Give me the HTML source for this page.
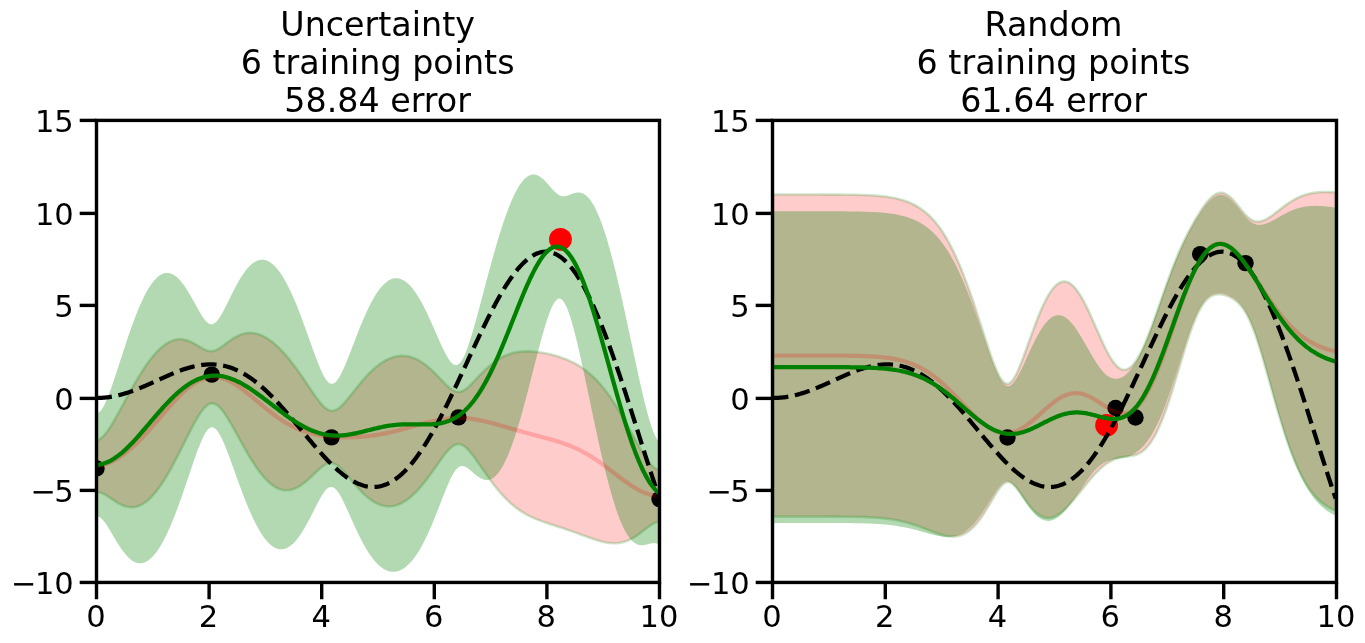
<!DOCTYPE html>
<html><head><meta charset="utf-8"><title>Active learning: Uncertainty vs Random</title>
<style>
html,body{margin:0;padding:0;background:#fff;}
svg{display:block;}
svg text{font-family:"DejaVu Sans","Liberation Sans",sans-serif;fill:#000;}
</style></head><body>
<svg width="1365" height="643" viewBox="0 0 1365 643">
<rect width="1365" height="643" fill="#fff"/>
<clipPath id="clip0"><rect x="96.5" y="120.4" width="563.0" height="462.05000000000007"/></clipPath>
<g clip-path="url(#clip0)">
<path d="M96.50,440.29 L97.91,439.96 L99.31,439.34 L100.72,438.46 L102.13,437.32 L103.54,435.94 L104.95,434.36 L106.35,432.60 L107.76,430.68 L109.17,428.62 L110.58,426.45 L111.98,424.18 L113.39,421.84 L114.80,419.42 L116.20,416.95 L117.61,414.44 L119.02,411.89 L120.43,409.33 L121.84,406.74 L123.24,404.15 L124.65,401.56 L126.06,398.98 L127.47,396.40 L128.87,393.84 L130.28,391.30 L131.69,388.78 L133.09,386.30 L134.50,383.84 L135.91,381.43 L137.32,379.05 L138.72,376.72 L140.13,374.43 L141.54,372.19 L142.95,370.01 L144.36,367.88 L145.76,365.81 L147.17,363.80 L148.58,361.86 L149.99,359.98 L151.39,358.17 L152.80,356.43 L154.21,354.76 L155.62,353.17 L157.02,351.65 L158.43,350.22 L159.84,348.86 L161.25,347.59 L162.65,346.41 L164.06,345.31 L165.47,344.29 L166.88,343.37 L168.28,342.54 L169.69,341.81 L171.10,341.16 L172.50,340.61 L173.91,340.16 L175.32,339.80 L176.73,339.53 L178.14,339.37 L179.54,339.29 L180.95,339.31 L182.36,339.42 L183.76,339.63 L185.17,339.92 L186.58,340.29 L187.99,340.75 L189.40,341.29 L190.80,341.89 L192.21,342.56 L193.62,343.29 L195.03,344.06 L196.43,344.87 L197.84,345.70 L199.25,346.54 L200.66,347.38 L202.06,348.18 L203.47,348.93 L204.88,349.62 L206.29,350.20 L207.69,350.66 L209.10,350.98 L210.51,351.13 L211.92,351.12 L213.32,350.92 L214.73,350.56 L216.14,350.03 L217.55,349.36 L218.95,348.57 L220.36,347.68 L221.77,346.72 L223.18,345.70 L224.58,344.66 L225.99,343.60 L227.40,342.54 L228.81,341.50 L230.21,340.49 L231.62,339.52 L233.03,338.59 L234.44,337.72 L235.84,336.92 L237.25,336.17 L238.66,335.50 L240.06,334.90 L241.47,334.37 L242.88,333.92 L244.29,333.55 L245.70,333.26 L247.10,333.04 L248.51,332.91 L249.92,332.86 L251.32,332.88 L252.73,332.99 L254.14,333.17 L255.55,333.43 L256.95,333.77 L258.36,334.18 L259.77,334.66 L261.18,335.22 L262.59,335.84 L263.99,336.54 L265.40,337.30 L266.81,338.13 L268.22,339.03 L269.62,339.99 L271.03,341.01 L272.44,342.09 L273.85,343.24 L275.25,344.44 L276.66,345.69 L278.07,347.01 L279.48,348.38 L280.88,349.80 L282.29,351.27 L283.70,352.80 L285.11,354.37 L286.51,355.99 L287.92,357.66 L289.33,359.38 L290.74,361.14 L292.14,362.94 L293.55,364.78 L294.96,366.66 L296.37,368.57 L297.77,370.52 L299.18,372.50 L300.59,374.51 L302.00,376.55 L303.40,378.60 L304.81,380.68 L306.22,382.76 L307.62,384.86 L309.03,386.95 L310.44,389.04 L311.85,391.11 L313.25,393.17 L314.66,395.19 L316.07,397.16 L317.48,399.08 L318.88,400.92 L320.29,402.67 L321.70,404.32 L323.11,405.82 L324.51,407.17 L325.92,408.34 L327.33,409.31 L328.74,410.05 L330.15,410.54 L331.55,410.78 L332.96,410.76 L334.37,410.48 L335.77,409.96 L337.18,409.22 L338.59,408.27 L340.00,407.15 L341.41,405.88 L342.81,404.48 L344.22,402.98 L345.63,401.39 L347.03,399.74 L348.44,398.04 L349.85,396.30 L351.26,394.54 L352.67,392.76 L354.07,390.98 L355.48,389.21 L356.89,387.45 L358.30,385.71 L359.70,383.99 L361.11,382.30 L362.52,380.64 L363.93,379.02 L365.33,377.44 L366.74,375.91 L368.15,374.42 L369.56,372.98 L370.96,371.59 L372.37,370.25 L373.78,368.97 L375.19,367.74 L376.59,366.57 L378.00,365.45 L379.41,364.39 L380.82,363.40 L382.22,362.46 L383.63,361.58 L385.04,360.76 L386.45,360.01 L387.85,359.31 L389.26,358.68 L390.67,358.11 L392.07,357.60 L393.48,357.16 L394.89,356.78 L396.30,356.47 L397.71,356.21 L399.11,356.03 L400.52,355.91 L401.93,355.85 L403.33,355.86 L404.74,355.94 L406.15,356.08 L407.56,356.29 L408.97,356.57 L410.37,356.91 L411.78,357.32 L413.19,357.80 L414.60,358.34 L416.00,358.96 L417.41,359.64 L418.82,360.38 L420.23,361.20 L421.63,362.07 L423.04,363.01 L424.45,364.01 L425.86,365.08 L427.26,366.20 L428.67,367.38 L430.08,368.61 L431.49,369.89 L432.89,371.21 L434.30,372.58 L435.71,373.98 L437.12,375.41 L438.52,376.87 L439.93,378.34 L441.34,379.81 L442.75,381.27 L444.15,382.72 L445.56,384.13 L446.97,385.48 L448.38,386.77 L449.78,387.96 L451.19,389.03 L452.60,389.97 L454.00,390.73 L455.41,391.31 L456.82,391.68 L458.23,391.83 L459.63,391.75 L461.04,391.45 L462.45,390.93 L463.86,390.22 L465.27,389.34 L466.67,388.30 L468.08,387.14 L469.49,385.87 L470.90,384.52 L472.30,383.12 L473.71,381.67 L475.12,380.19 L476.52,378.70 L477.93,377.21 L479.34,375.72 L480.75,374.26 L482.16,372.81 L483.56,371.40 L484.97,370.02 L486.38,368.68 L487.78,367.38 L489.19,366.13 L490.60,364.93 L492.01,363.78 L493.42,362.69 L494.82,361.64 L496.23,360.65 L497.64,359.72 L499.05,358.84 L500.45,358.01 L501.86,357.24 L503.27,356.52 L504.68,355.86 L506.08,355.25 L507.49,354.69 L508.90,354.17 L510.31,353.71 L511.71,353.29 L513.12,352.92 L514.53,352.60 L515.94,352.31 L517.34,352.07 L518.75,351.86 L520.16,351.69 L521.57,351.56 L522.97,351.46 L524.38,351.39 L525.79,351.35 L527.19,351.34 L528.60,351.36 L530.01,351.40 L531.42,351.47 L532.83,351.56 L534.23,351.68 L535.64,351.82 L537.05,351.97 L538.46,352.15 L539.86,352.35 L541.27,352.56 L542.68,352.79 L544.09,353.04 L545.49,353.31 L546.90,353.59 L548.31,353.89 L549.72,354.21 L551.12,354.54 L552.53,354.90 L553.94,355.27 L555.35,355.66 L556.75,356.06 L558.16,356.49 L559.57,356.94 L560.98,357.41 L562.38,357.90 L563.79,358.42 L565.20,358.95 L566.61,359.52 L568.01,360.11 L569.42,360.73 L570.83,361.38 L572.24,362.06 L573.64,362.77 L575.05,363.52 L576.46,364.30 L577.87,365.12 L579.27,365.97 L580.68,366.87 L582.09,367.81 L583.50,368.79 L584.90,369.81 L586.31,370.88 L587.72,372.00 L589.12,373.16 L590.53,374.38 L591.94,375.64 L593.35,376.96 L594.75,378.33 L596.16,379.76 L597.57,381.24 L598.98,382.78 L600.38,384.37 L601.79,386.02 L603.20,387.73 L604.61,389.49 L606.02,391.31 L607.42,393.19 L608.83,395.13 L610.24,397.12 L611.64,399.16 L613.05,401.26 L614.46,403.42 L615.87,405.62 L617.27,407.87 L618.68,410.17 L620.09,412.51 L621.50,414.89 L622.90,417.32 L624.31,419.77 L625.72,422.26 L627.13,424.77 L628.54,427.31 L629.94,429.86 L631.35,432.42 L632.76,434.99 L634.17,437.56 L635.57,440.12 L636.98,442.66 L638.39,445.17 L639.79,447.65 L641.20,450.09 L642.61,452.46 L644.02,454.76 L645.42,456.97 L646.83,459.08 L648.24,461.06 L649.65,462.90 L651.06,464.57 L652.46,466.04 L653.87,467.29 L655.28,468.30 L656.69,469.04 L658.09,469.49 L659.50,469.64 L659.50,521.87 L658.09,521.97 L656.69,522.25 L655.28,522.71 L653.87,523.33 L652.46,524.09 L651.06,524.96 L649.65,525.92 L648.24,526.94 L646.83,528.01 L645.42,529.11 L644.02,530.22 L642.61,531.32 L641.20,532.41 L639.79,533.47 L638.39,534.49 L636.98,535.47 L635.57,536.41 L634.17,537.29 L632.76,538.11 L631.35,538.88 L629.94,539.59 L628.54,540.23 L627.13,540.81 L625.72,541.32 L624.31,541.78 L622.90,542.17 L621.50,542.49 L620.09,542.76 L618.68,542.96 L617.27,543.11 L615.87,543.20 L614.46,543.24 L613.05,543.22 L611.64,543.16 L610.24,543.04 L608.83,542.89 L607.42,542.69 L606.02,542.45 L604.61,542.18 L603.20,541.87 L601.79,541.54 L600.38,541.17 L598.98,540.78 L597.57,540.36 L596.16,539.93 L594.75,539.48 L593.35,539.01 L591.94,538.53 L590.53,538.04 L589.12,537.53 L587.72,537.03 L586.31,536.51 L584.90,535.99 L583.50,535.48 L582.09,534.96 L580.68,534.44 L579.27,533.92 L577.87,533.40 L576.46,532.89 L575.05,532.39 L573.64,531.88 L572.24,531.39 L570.83,530.90 L569.42,530.41 L568.01,529.93 L566.61,529.46 L565.20,528.99 L563.79,528.52 L562.38,528.06 L560.98,527.61 L559.57,527.16 L558.16,526.71 L556.75,526.26 L555.35,525.81 L553.94,525.36 L552.53,524.91 L551.12,524.46 L549.72,524.01 L548.31,523.55 L546.90,523.08 L545.49,522.60 L544.09,522.11 L542.68,521.62 L541.27,521.11 L539.86,520.58 L538.46,520.04 L537.05,519.47 L535.64,518.89 L534.23,518.29 L532.83,517.66 L531.42,517.01 L530.01,516.33 L528.60,515.62 L527.19,514.88 L525.79,514.10 L524.38,513.29 L522.97,512.45 L521.57,511.56 L520.16,510.64 L518.75,509.67 L517.34,508.66 L515.94,507.61 L514.53,506.51 L513.12,505.37 L511.71,504.17 L510.31,502.93 L508.90,501.64 L507.49,500.30 L506.08,498.92 L504.68,497.48 L503.27,495.99 L501.86,494.45 L500.45,492.86 L499.05,491.22 L497.64,489.54 L496.23,487.81 L494.82,486.03 L493.42,484.22 L492.01,482.36 L490.60,480.47 L489.19,478.54 L487.78,476.58 L486.38,474.60 L484.97,472.59 L483.56,470.57 L482.16,468.53 L480.75,466.50 L479.34,464.47 L477.93,462.45 L476.52,460.45 L475.12,458.49 L473.71,456.57 L472.30,454.72 L470.90,452.95 L469.49,451.27 L468.08,449.71 L466.67,448.29 L465.27,447.04 L463.86,445.97 L462.45,445.12 L461.04,444.51 L459.63,444.16 L458.23,444.06 L456.82,444.24 L455.41,444.68 L454.00,445.36 L452.60,446.28 L451.19,447.40 L449.78,448.70 L448.38,450.16 L446.97,451.75 L445.56,453.45 L444.15,455.24 L442.75,457.10 L441.34,459.01 L439.93,460.97 L438.52,462.95 L437.12,464.94 L435.71,466.94 L434.30,468.94 L432.89,470.93 L431.49,472.91 L430.08,474.85 L428.67,476.77 L427.26,478.66 L425.86,480.50 L424.45,482.31 L423.04,484.06 L421.63,485.77 L420.23,487.42 L418.82,489.01 L417.41,490.54 L416.00,492.02 L414.60,493.43 L413.19,494.77 L411.78,496.05 L410.37,497.26 L408.97,498.39 L407.56,499.46 L406.15,500.45 L404.74,501.37 L403.33,502.21 L401.93,502.98 L400.52,503.67 L399.11,504.28 L397.71,504.82 L396.30,505.27 L394.89,505.65 L393.48,505.95 L392.07,506.17 L390.67,506.31 L389.26,506.37 L387.85,506.34 L386.45,506.24 L385.04,506.06 L383.63,505.80 L382.22,505.46 L380.82,505.04 L379.41,504.53 L378.00,503.95 L376.59,503.30 L375.19,502.56 L373.78,501.75 L372.37,500.86 L370.96,499.90 L369.56,498.87 L368.15,497.77 L366.74,496.60 L365.33,495.36 L363.93,494.06 L362.52,492.70 L361.11,491.28 L359.70,489.81 L358.30,488.29 L356.89,486.72 L355.48,485.12 L354.07,483.49 L352.67,481.83 L351.26,480.15 L349.85,478.47 L348.44,476.79 L347.03,475.12 L345.63,473.49 L344.22,471.89 L342.81,470.36 L341.41,468.92 L340.00,467.57 L338.59,466.36 L337.18,465.29 L335.77,464.41 L334.37,463.72 L332.96,463.25 L331.55,463.01 L330.15,463.00 L328.74,463.21 L327.33,463.64 L325.92,464.27 L324.51,465.07 L323.11,466.02 L321.70,467.10 L320.29,468.27 L318.88,469.52 L317.48,470.82 L316.07,472.16 L314.66,473.51 L313.25,474.87 L311.85,476.22 L310.44,477.55 L309.03,478.85 L307.62,480.11 L306.22,481.32 L304.81,482.47 L303.40,483.57 L302.00,484.59 L300.59,485.55 L299.18,486.43 L297.77,487.22 L296.37,487.93 L294.96,488.56 L293.55,489.09 L292.14,489.53 L290.74,489.87 L289.33,490.12 L287.92,490.27 L286.51,490.32 L285.11,490.26 L283.70,490.11 L282.29,489.85 L280.88,489.49 L279.48,489.02 L278.07,488.46 L276.66,487.78 L275.25,487.01 L273.85,486.14 L272.44,485.16 L271.03,484.09 L269.62,482.92 L268.22,481.65 L266.81,480.28 L265.40,478.82 L263.99,477.28 L262.59,475.64 L261.18,473.92 L259.77,472.11 L258.36,470.22 L256.95,468.26 L255.55,466.22 L254.14,464.12 L252.73,461.94 L251.32,459.71 L249.92,457.41 L248.51,455.07 L247.10,452.67 L245.70,450.24 L244.29,447.76 L242.88,445.26 L241.47,442.73 L240.06,440.18 L238.66,437.63 L237.25,435.07 L235.84,432.51 L234.44,429.97 L233.03,427.46 L231.62,424.98 L230.21,422.55 L228.81,420.18 L227.40,417.88 L225.99,415.68 L224.58,413.58 L223.18,411.61 L221.77,409.80 L220.36,408.16 L218.95,406.71 L217.55,405.49 L216.14,404.53 L214.73,403.84 L213.32,403.44 L211.92,403.35 L210.51,403.57 L209.10,404.09 L207.69,404.92 L206.29,406.02 L204.88,407.38 L203.47,408.97 L202.06,410.77 L200.66,412.75 L199.25,414.88 L197.84,417.15 L196.43,419.54 L195.03,422.03 L193.62,424.60 L192.21,427.23 L190.80,429.93 L189.40,432.66 L187.99,435.43 L186.58,438.22 L185.17,441.03 L183.76,443.84 L182.36,446.65 L180.95,449.46 L179.54,452.24 L178.14,455.01 L176.73,457.75 L175.32,460.45 L173.91,463.11 L172.50,465.73 L171.10,468.31 L169.69,470.82 L168.28,473.28 L166.88,475.68 L165.47,478.01 L164.06,480.27 L162.65,482.46 L161.25,484.57 L159.84,486.61 L158.43,488.55 L157.02,490.42 L155.62,492.19 L154.21,493.88 L152.80,495.47 L151.39,496.97 L149.99,498.36 L148.58,499.67 L147.17,500.87 L145.76,501.96 L144.36,502.96 L142.95,503.85 L141.54,504.64 L140.13,505.32 L138.72,505.90 L137.32,506.38 L135.91,506.74 L134.50,507.01 L133.09,507.17 L131.69,507.23 L130.28,507.19 L128.87,507.05 L127.47,506.82 L126.06,506.49 L124.65,506.07 L123.24,505.56 L121.84,504.98 L120.43,504.32 L119.02,503.59 L117.61,502.79 L116.20,501.94 L114.80,501.05 L113.39,500.12 L111.98,499.16 L110.58,498.20 L109.17,497.25 L107.76,496.32 L106.35,495.43 L104.95,494.62 L103.54,493.90 L102.13,493.29 L100.72,492.83 L99.31,492.54 L97.91,492.43 L96.50,492.52Z" fill="#ff0000" fill-opacity="0.2" stroke="#008000" stroke-opacity="0.2" stroke-width="2.6" stroke-linejoin="round"/>
<path d="M96.50,413.36 L97.91,412.99 L99.31,412.08 L100.72,410.64 L102.13,408.73 L103.54,406.39 L104.95,403.65 L106.35,400.58 L107.76,397.23 L109.17,393.63 L110.58,389.83 L111.98,385.86 L113.39,381.77 L114.80,377.57 L116.20,373.30 L117.61,368.97 L119.02,364.61 L120.43,360.25 L121.84,355.88 L123.24,351.54 L124.65,347.23 L126.06,342.96 L127.47,338.75 L128.87,334.62 L130.28,330.56 L131.69,326.59 L133.09,322.71 L134.50,318.94 L135.91,315.28 L137.32,311.74 L138.72,308.32 L140.13,305.04 L141.54,301.89 L142.95,298.88 L144.36,296.03 L145.76,293.32 L147.17,290.76 L148.58,288.37 L149.99,286.14 L151.39,284.07 L152.80,282.17 L154.21,280.45 L155.62,278.89 L157.02,277.52 L158.43,276.32 L159.84,275.30 L161.25,274.46 L162.65,273.80 L164.06,273.32 L165.47,273.03 L166.88,272.91 L168.28,272.98 L169.69,273.22 L171.10,273.65 L172.50,274.25 L173.91,275.02 L175.32,275.97 L176.73,277.09 L178.14,278.36 L179.54,279.80 L180.95,281.39 L182.36,283.13 L183.76,285.00 L185.17,287.01 L186.58,289.14 L187.99,291.38 L189.40,293.72 L190.80,296.14 L192.21,298.63 L193.62,301.16 L195.03,303.73 L196.43,306.30 L197.84,308.84 L199.25,311.33 L200.66,313.72 L202.06,315.98 L203.47,318.06 L204.88,319.92 L206.29,321.51 L207.69,322.77 L209.10,323.66 L210.51,324.16 L211.92,324.23 L213.32,323.87 L214.73,323.08 L216.14,321.90 L217.55,320.35 L218.95,318.49 L220.36,316.35 L221.77,313.99 L223.18,311.45 L224.58,308.77 L225.99,306.00 L227.40,303.17 L228.81,300.31 L230.21,297.44 L231.62,294.60 L233.03,291.79 L234.44,289.04 L235.84,286.36 L237.25,283.76 L238.66,281.26 L240.06,278.87 L241.47,276.59 L242.88,274.44 L244.29,272.41 L245.70,270.53 L247.10,268.78 L248.51,267.18 L249.92,265.72 L251.32,264.42 L252.73,263.27 L254.14,262.28 L255.55,261.45 L256.95,260.78 L258.36,260.26 L259.77,259.91 L261.18,259.72 L262.59,259.69 L263.99,259.83 L265.40,260.13 L266.81,260.58 L268.22,261.20 L269.62,261.98 L271.03,262.91 L272.44,264.01 L273.85,265.25 L275.25,266.66 L276.66,268.21 L278.07,269.92 L279.48,271.78 L280.88,273.78 L282.29,275.92 L283.70,278.21 L285.11,280.64 L286.51,283.20 L287.92,285.90 L289.33,288.72 L290.74,291.67 L292.14,294.73 L293.55,297.92 L294.96,301.21 L296.37,304.61 L297.77,308.10 L299.18,311.69 L300.59,315.36 L302.00,319.11 L303.40,322.92 L304.81,326.79 L306.22,330.70 L307.62,334.65 L309.03,338.61 L310.44,342.58 L311.85,346.54 L313.25,350.46 L314.66,354.33 L316.07,358.11 L317.48,361.79 L318.88,365.33 L320.29,368.69 L321.70,371.83 L323.11,374.71 L324.51,377.28 L325.92,379.50 L327.33,381.30 L328.74,382.65 L330.15,383.52 L331.55,383.87 L332.96,383.71 L334.37,383.04 L335.77,381.89 L337.18,380.29 L338.59,378.29 L340.00,375.93 L341.41,373.27 L342.81,370.36 L344.22,367.23 L345.63,363.94 L347.03,360.52 L348.44,356.99 L349.85,353.39 L351.26,349.75 L352.67,346.09 L354.07,342.42 L355.48,338.76 L356.89,335.14 L358.30,331.56 L359.70,328.04 L361.11,324.58 L362.52,321.21 L363.93,317.92 L365.33,314.72 L366.74,311.63 L368.15,308.65 L369.56,305.78 L370.96,303.04 L372.37,300.42 L373.78,297.94 L375.19,295.59 L376.59,293.37 L378.00,291.30 L379.41,289.37 L380.82,287.59 L382.22,285.96 L383.63,284.48 L385.04,283.15 L386.45,281.98 L387.85,280.96 L389.26,280.10 L390.67,279.39 L392.07,278.85 L393.48,278.46 L394.89,278.22 L396.30,278.15 L397.71,278.24 L399.11,278.48 L400.52,278.88 L401.93,279.43 L403.33,280.14 L404.74,281.01 L406.15,282.02 L407.56,283.19 L408.97,284.51 L410.37,285.97 L411.78,287.58 L413.19,289.34 L414.60,291.23 L416.00,293.25 L417.41,295.41 L418.82,297.69 L420.23,300.10 L421.63,302.62 L423.04,305.25 L424.45,307.98 L425.86,310.82 L427.26,313.73 L428.67,316.73 L430.08,319.80 L431.49,322.92 L432.89,326.09 L434.30,329.29 L435.71,332.51 L437.12,335.73 L438.52,338.93 L439.93,342.09 L441.34,345.19 L442.75,348.19 L444.15,351.08 L445.56,353.81 L446.97,356.36 L448.38,358.67 L449.78,360.70 L451.19,362.41 L452.60,363.74 L454.00,364.65 L455.41,365.08 L456.82,365.01 L458.23,364.40 L459.63,363.26 L461.04,361.57 L462.45,359.37 L463.86,356.69 L465.27,353.57 L466.67,350.05 L468.08,346.19 L469.49,342.03 L470.90,337.61 L472.30,332.98 L473.71,328.18 L475.12,323.22 L476.52,318.15 L477.93,312.99 L479.34,307.76 L480.75,302.48 L482.16,297.17 L483.56,291.84 L484.97,286.52 L486.38,281.22 L487.78,275.94 L489.19,270.71 L490.60,265.52 L492.01,260.41 L493.42,255.36 L494.82,250.40 L496.23,245.53 L497.64,240.76 L499.05,236.10 L500.45,231.56 L501.86,227.14 L503.27,222.86 L504.68,218.72 L506.08,214.73 L507.49,210.89 L508.90,207.21 L510.31,203.71 L511.71,200.37 L513.12,197.22 L514.53,194.26 L515.94,191.48 L517.34,188.91 L518.75,186.53 L520.16,184.36 L521.57,182.40 L522.97,180.65 L524.38,179.12 L525.79,177.81 L527.19,176.72 L528.60,175.85 L530.01,175.20 L531.42,174.77 L532.83,174.57 L534.23,174.57 L535.64,174.79 L537.05,175.21 L538.46,175.84 L539.86,176.65 L541.27,177.63 L542.68,178.78 L544.09,180.08 L545.49,181.50 L546.90,183.01 L548.31,184.61 L549.72,186.23 L551.12,187.87 L552.53,189.46 L553.94,190.97 L555.35,192.36 L556.75,193.58 L558.16,194.60 L559.57,195.39 L560.98,195.93 L562.38,196.23 L563.79,196.29 L565.20,196.15 L566.61,195.84 L568.01,195.41 L569.42,194.90 L570.83,194.36 L572.24,193.83 L573.64,193.34 L575.05,192.95 L576.46,192.66 L577.87,192.52 L579.27,192.55 L580.68,192.76 L582.09,193.17 L583.50,193.79 L584.90,194.63 L586.31,195.71 L587.72,197.03 L589.12,198.59 L590.53,200.40 L591.94,202.46 L593.35,204.77 L594.75,207.33 L596.16,210.13 L597.57,213.19 L598.98,216.48 L600.38,220.02 L601.79,223.79 L603.20,227.78 L604.61,232.00 L606.02,236.44 L607.42,241.08 L608.83,245.92 L610.24,250.95 L611.64,256.17 L613.05,261.56 L614.46,267.12 L615.87,272.83 L617.27,278.68 L618.68,284.66 L620.09,290.77 L621.50,296.98 L622.90,303.30 L624.31,309.69 L625.72,316.16 L627.13,322.69 L628.54,329.26 L629.94,335.86 L631.35,342.47 L632.76,349.09 L634.17,355.68 L635.57,362.24 L636.98,368.75 L638.39,375.18 L639.79,381.51 L641.20,387.72 L642.61,393.79 L644.02,399.68 L645.42,405.37 L646.83,410.82 L648.24,415.99 L649.65,420.84 L651.06,425.33 L652.46,429.40 L653.87,433.01 L655.28,436.11 L656.69,438.66 L658.09,440.61 L659.50,441.94 L659.50,544.96 L658.09,544.06 L656.69,543.47 L655.28,543.15 L653.87,543.06 L652.46,543.16 L651.06,543.40 L649.65,543.72 L648.24,544.09 L646.83,544.46 L645.42,544.79 L644.02,545.04 L642.61,545.18 L641.20,545.20 L639.79,545.05 L638.39,544.73 L636.98,544.23 L635.57,543.51 L634.17,542.58 L632.76,541.42 L631.35,540.03 L629.94,538.40 L628.54,536.52 L627.13,534.39 L625.72,532.02 L624.31,529.39 L622.90,526.51 L621.50,523.39 L620.09,520.01 L618.68,516.39 L617.27,512.53 L615.87,508.44 L614.46,504.12 L613.05,499.57 L611.64,494.81 L610.24,489.83 L608.83,484.66 L607.42,479.30 L606.02,473.76 L604.61,468.05 L603.20,462.18 L601.79,456.16 L600.38,450.01 L598.98,443.73 L597.57,437.35 L596.16,430.87 L594.75,424.32 L593.35,417.70 L591.94,411.02 L590.53,404.32 L589.12,397.61 L587.72,390.89 L586.31,384.20 L584.90,377.55 L583.50,370.97 L582.09,364.47 L580.68,358.08 L579.27,351.82 L577.87,345.73 L576.46,339.83 L575.05,334.16 L573.64,328.74 L572.24,323.63 L570.83,318.86 L569.42,314.48 L568.01,310.53 L566.61,307.07 L565.20,304.15 L563.79,301.80 L562.38,300.08 L560.98,299.00 L559.57,298.58 L558.16,298.81 L556.75,299.69 L555.35,301.18 L553.94,303.23 L552.53,305.80 L551.12,308.84 L549.72,312.30 L548.31,316.13 L546.90,320.28 L545.49,324.71 L544.09,329.38 L542.68,334.26 L541.27,339.31 L539.86,344.50 L538.46,349.81 L537.05,355.20 L535.64,360.66 L534.23,366.16 L532.83,371.68 L531.42,377.21 L530.01,382.71 L528.60,388.18 L527.19,393.60 L525.79,398.95 L524.38,404.22 L522.97,409.39 L521.57,414.45 L520.16,419.39 L518.75,424.18 L517.34,428.84 L515.94,433.33 L514.53,437.66 L513.12,441.81 L511.71,445.77 L510.31,449.54 L508.90,453.10 L507.49,456.47 L506.08,459.61 L504.68,462.54 L503.27,465.25 L501.86,467.73 L500.45,469.98 L499.05,472.01 L497.64,473.80 L496.23,475.36 L494.82,476.69 L493.42,477.80 L492.01,478.68 L490.60,479.34 L489.19,479.78 L487.78,480.02 L486.38,480.05 L484.97,479.89 L483.56,479.54 L482.16,479.02 L480.75,478.35 L479.34,477.53 L477.93,476.58 L476.52,475.53 L475.12,474.39 L473.71,473.20 L472.30,471.99 L470.90,470.78 L469.49,469.61 L468.08,468.53 L466.67,467.59 L465.27,466.83 L463.86,466.30 L462.45,466.05 L461.04,466.14 L459.63,466.59 L458.23,467.43 L456.82,468.68 L455.41,470.32 L454.00,472.34 L452.60,474.70 L451.19,477.37 L449.78,480.29 L448.38,483.43 L446.97,486.74 L445.56,490.18 L444.15,493.71 L442.75,497.31 L441.34,500.94 L439.93,504.58 L438.52,508.21 L437.12,511.81 L435.71,515.36 L434.30,518.85 L432.89,522.28 L431.49,525.62 L430.08,528.87 L428.67,532.03 L427.26,535.09 L425.86,538.04 L424.45,540.87 L423.04,543.60 L421.63,546.20 L420.23,548.68 L418.82,551.04 L417.41,553.27 L416.00,555.38 L414.60,557.37 L413.19,559.22 L411.78,560.95 L410.37,562.55 L408.97,564.02 L407.56,565.36 L406.15,566.58 L404.74,567.67 L403.33,568.63 L401.93,569.47 L400.52,570.18 L399.11,570.76 L397.71,571.22 L396.30,571.55 L394.89,571.76 L393.48,571.84 L392.07,571.80 L390.67,571.63 L389.26,571.33 L387.85,570.91 L386.45,570.37 L385.04,569.70 L383.63,568.90 L382.22,567.98 L380.82,566.94 L379.41,565.76 L378.00,564.47 L376.59,563.04 L375.19,561.50 L373.78,559.83 L372.37,558.04 L370.96,556.12 L369.56,554.09 L368.15,551.94 L366.74,549.68 L365.33,547.30 L363.93,544.82 L362.52,542.23 L361.11,539.54 L359.70,536.77 L358.30,533.90 L356.89,530.96 L355.48,527.95 L354.07,524.88 L352.67,521.77 L351.26,518.63 L349.85,515.47 L348.44,512.33 L347.03,509.21 L345.63,506.15 L344.22,503.17 L342.81,500.31 L341.41,497.61 L340.00,495.11 L338.59,492.86 L337.18,490.90 L335.77,489.29 L334.37,488.06 L332.96,487.26 L331.55,486.90 L330.15,486.99 L328.74,487.52 L327.33,488.48 L325.92,489.81 L324.51,491.49 L323.11,493.46 L321.70,495.68 L320.29,498.08 L318.88,500.64 L317.48,503.30 L316.07,506.05 L314.66,508.83 L313.25,511.63 L311.85,514.42 L310.44,517.18 L309.03,519.89 L307.62,522.54 L306.22,525.11 L304.81,527.59 L303.40,529.96 L302.00,532.23 L300.59,534.38 L299.18,536.41 L297.77,538.30 L296.37,540.05 L294.96,541.66 L293.55,543.13 L292.14,544.44 L290.74,545.61 L289.33,546.62 L287.92,547.47 L286.51,548.16 L285.11,548.69 L283.70,549.06 L282.29,549.27 L280.88,549.32 L279.48,549.21 L278.07,548.93 L276.66,548.49 L275.25,547.89 L273.85,547.13 L272.44,546.22 L271.03,545.14 L269.62,543.91 L268.22,542.52 L266.81,540.98 L265.40,539.28 L263.99,537.44 L262.59,535.45 L261.18,533.31 L259.77,531.04 L258.36,528.62 L256.95,526.07 L255.55,523.39 L254.14,520.58 L252.73,517.64 L251.32,514.58 L249.92,511.41 L248.51,508.14 L247.10,504.75 L245.70,501.28 L244.29,497.71 L242.88,494.06 L241.47,490.34 L240.06,486.55 L238.66,482.71 L237.25,478.83 L235.84,474.93 L234.44,471.00 L233.03,467.08 L231.62,463.17 L230.21,459.31 L228.81,455.51 L227.40,451.79 L225.99,448.18 L224.58,444.73 L223.18,441.46 L221.77,438.41 L220.36,435.63 L218.95,433.17 L217.55,431.07 L216.14,429.39 L214.73,428.17 L213.32,427.45 L211.92,427.25 L210.51,427.58 L209.10,428.44 L207.69,429.79 L206.29,431.62 L204.88,433.86 L203.47,436.49 L202.06,439.44 L200.66,442.66 L199.25,446.13 L197.84,449.78 L196.43,453.59 L195.03,457.52 L193.62,461.55 L192.21,465.65 L190.80,469.79 L189.40,473.96 L187.99,478.14 L186.58,482.31 L185.17,486.46 L183.76,490.57 L182.36,494.64 L180.95,498.66 L179.54,502.60 L178.14,506.47 L176.73,510.26 L175.32,513.96 L173.91,517.56 L172.50,521.06 L171.10,524.44 L169.69,527.71 L168.28,530.87 L166.88,533.89 L165.47,536.79 L164.06,539.55 L162.65,542.18 L161.25,544.66 L159.84,547.00 L158.43,549.20 L157.02,551.24 L155.62,553.13 L154.21,554.86 L152.80,556.44 L151.39,557.85 L149.99,559.11 L148.58,560.20 L147.17,561.12 L145.76,561.88 L144.36,562.47 L142.95,562.89 L141.54,563.15 L140.13,563.23 L138.72,563.15 L137.32,562.90 L135.91,562.48 L134.50,561.89 L133.09,561.14 L131.69,560.23 L130.28,559.16 L128.87,557.93 L127.47,556.55 L126.06,555.03 L124.65,553.37 L123.24,551.57 L121.84,549.65 L120.43,547.62 L119.02,545.48 L117.61,543.25 L116.20,540.95 L114.80,538.58 L113.39,536.18 L111.98,533.76 L110.58,531.35 L109.17,528.99 L107.76,526.70 L106.35,524.53 L104.95,522.51 L103.54,520.71 L102.13,519.15 L100.72,517.90 L99.31,517.00 L97.91,516.49 L96.50,516.38Z" fill="#008000" fill-opacity="0.3" stroke="none"/>
<circle cx="560.45" cy="239.30" r="11.4" fill="#ff0000"/>
<circle cx="96.50" cy="468.40" r="8.2" fill="#000"/>
<circle cx="211.80" cy="374.60" r="8.2" fill="#000"/>
<circle cx="331.50" cy="437.40" r="8.2" fill="#000"/>
<circle cx="458.45" cy="417.40" r="8.2" fill="#000"/>
<circle cx="659.50" cy="499.10" r="8.2" fill="#000"/>
<path d="M96.50,466.41 L97.91,466.19 L99.31,465.94 L100.72,465.64 L102.13,465.30 L103.54,464.92 L104.95,464.49 L106.35,464.02 L107.76,463.50 L109.17,462.94 L110.58,462.33 L111.98,461.67 L113.39,460.98 L114.80,460.23 L116.20,459.45 L117.61,458.61 L119.02,457.74 L120.43,456.82 L121.84,455.86 L123.24,454.86 L124.65,453.82 L126.06,452.73 L127.47,451.61 L128.87,450.44 L130.28,449.24 L131.69,448.01 L133.09,446.73 L134.50,445.43 L135.91,444.09 L137.32,442.71 L138.72,441.31 L140.13,439.88 L141.54,438.42 L142.95,436.93 L144.36,435.42 L145.76,433.89 L147.17,432.34 L148.58,430.76 L149.99,429.17 L151.39,427.57 L152.80,425.95 L154.21,424.32 L155.62,422.68 L157.02,421.04 L158.43,419.39 L159.84,417.73 L161.25,416.08 L162.65,414.43 L164.06,412.79 L165.47,411.15 L166.88,409.53 L168.28,407.91 L169.69,406.31 L171.10,404.73 L172.50,403.17 L173.91,401.64 L175.32,400.12 L176.73,398.64 L178.14,397.19 L179.54,395.77 L180.95,394.38 L182.36,393.04 L183.76,391.74 L185.17,390.47 L186.58,389.26 L187.99,388.09 L189.40,386.97 L190.80,385.91 L192.21,384.90 L193.62,383.94 L195.03,383.04 L196.43,382.21 L197.84,381.43 L199.25,380.71 L200.66,380.06 L202.06,379.47 L203.47,378.95 L204.88,378.50 L206.29,378.11 L207.69,377.79 L209.10,377.54 L210.51,377.35 L211.92,377.23 L213.32,377.18 L214.73,377.20 L216.14,377.28 L217.55,377.43 L218.95,377.64 L220.36,377.92 L221.77,378.26 L223.18,378.66 L224.58,379.12 L225.99,379.64 L227.40,380.21 L228.81,380.84 L230.21,381.52 L231.62,382.25 L233.03,383.03 L234.44,383.85 L235.84,384.71 L237.25,385.62 L238.66,386.56 L240.06,387.54 L241.47,388.55 L242.88,389.59 L244.29,390.66 L245.70,391.75 L247.10,392.86 L248.51,393.99 L249.92,395.14 L251.32,396.30 L252.73,397.47 L254.14,398.64 L255.55,399.83 L256.95,401.01 L258.36,402.20 L259.77,403.39 L261.18,404.57 L262.59,405.74 L263.99,406.91 L265.40,408.06 L266.81,409.21 L268.22,410.34 L269.62,411.45 L271.03,412.55 L272.44,413.63 L273.85,414.69 L275.25,415.72 L276.66,416.74 L278.07,417.73 L279.48,418.70 L280.88,419.64 L282.29,420.56 L283.70,421.45 L285.11,422.32 L286.51,423.16 L287.92,423.97 L289.33,424.75 L290.74,425.51 L292.14,426.23 L293.55,426.93 L294.96,427.61 L296.37,428.25 L297.77,428.87 L299.18,429.46 L300.59,430.03 L302.00,430.57 L303.40,431.09 L304.81,431.58 L306.22,432.04 L307.62,432.48 L309.03,432.90 L310.44,433.29 L311.85,433.67 L313.25,434.02 L314.66,434.35 L316.07,434.66 L317.48,434.95 L318.88,435.22 L320.29,435.47 L321.70,435.71 L323.11,435.92 L324.51,436.12 L325.92,436.31 L327.33,436.48 L328.74,436.63 L330.15,436.77 L331.55,436.89 L332.96,437.00 L334.37,437.10 L335.77,437.18 L337.18,437.26 L338.59,437.32 L340.00,437.36 L341.41,437.40 L342.81,437.42 L344.22,437.44 L345.63,437.44 L347.03,437.43 L348.44,437.41 L349.85,437.38 L351.26,437.34 L352.67,437.29 L354.07,437.24 L355.48,437.17 L356.89,437.09 L358.30,437.00 L359.70,436.90 L361.11,436.79 L362.52,436.67 L363.93,436.54 L365.33,436.40 L366.74,436.25 L368.15,436.09 L369.56,435.93 L370.96,435.75 L372.37,435.56 L373.78,435.36 L375.19,435.15 L376.59,434.93 L378.00,434.70 L379.41,434.46 L380.82,434.22 L382.22,433.96 L383.63,433.69 L385.04,433.41 L386.45,433.13 L387.85,432.83 L389.26,432.52 L390.67,432.21 L392.07,431.89 L393.48,431.56 L394.89,431.22 L396.30,430.87 L397.71,430.52 L399.11,430.15 L400.52,429.79 L401.93,429.41 L403.33,429.04 L404.74,428.65 L406.15,428.26 L407.56,427.87 L408.97,427.48 L410.37,427.08 L411.78,426.68 L413.19,426.29 L414.60,425.89 L416.00,425.49 L417.41,425.09 L418.82,424.70 L420.23,424.31 L421.63,423.92 L423.04,423.54 L424.45,423.16 L425.86,422.79 L427.26,422.43 L428.67,422.07 L430.08,421.73 L431.49,421.40 L432.89,421.07 L434.30,420.76 L435.71,420.46 L437.12,420.18 L438.52,419.91 L439.93,419.65 L441.34,419.41 L442.75,419.19 L444.15,418.98 L445.56,418.79 L446.97,418.62 L448.38,418.47 L449.78,418.33 L451.19,418.22 L452.60,418.12 L454.00,418.05 L455.41,417.99 L456.82,417.96 L458.23,417.95 L459.63,417.95 L461.04,417.98 L462.45,418.03 L463.86,418.10 L465.27,418.19 L466.67,418.29 L468.08,418.42 L469.49,418.57 L470.90,418.73 L472.30,418.92 L473.71,419.12 L475.12,419.34 L476.52,419.58 L477.93,419.83 L479.34,420.10 L480.75,420.38 L482.16,420.67 L483.56,420.98 L484.97,421.30 L486.38,421.64 L487.78,421.98 L489.19,422.34 L490.60,422.70 L492.01,423.07 L493.42,423.45 L494.82,423.84 L496.23,424.23 L497.64,424.63 L499.05,425.03 L500.45,425.44 L501.86,425.84 L503.27,426.26 L504.68,426.67 L506.08,427.08 L507.49,427.50 L508.90,427.91 L510.31,428.32 L511.71,428.73 L513.12,429.15 L514.53,429.55 L515.94,429.96 L517.34,430.36 L518.75,430.76 L520.16,431.16 L521.57,431.56 L522.97,431.95 L524.38,432.34 L525.79,432.72 L527.19,433.11 L528.60,433.49 L530.01,433.87 L531.42,434.24 L532.83,434.61 L534.23,434.98 L535.64,435.35 L537.05,435.72 L538.46,436.09 L539.86,436.46 L541.27,436.83 L542.68,437.20 L544.09,437.58 L545.49,437.95 L546.90,438.33 L548.31,438.72 L549.72,439.11 L551.12,439.50 L552.53,439.91 L553.94,440.32 L555.35,440.73 L556.75,441.16 L558.16,441.60 L559.57,442.05 L560.98,442.51 L562.38,442.98 L563.79,443.47 L565.20,443.97 L566.61,444.49 L568.01,445.02 L569.42,445.57 L570.83,446.14 L572.24,446.72 L573.64,447.33 L575.05,447.95 L576.46,448.60 L577.87,449.26 L579.27,449.95 L580.68,450.65 L582.09,451.38 L583.50,452.13 L584.90,452.90 L586.31,453.70 L587.72,454.51 L589.12,455.35 L590.53,456.21 L591.94,457.09 L593.35,457.99 L594.75,458.91 L596.16,459.84 L597.57,460.80 L598.98,461.78 L600.38,462.77 L601.79,463.78 L603.20,464.80 L604.61,465.84 L606.02,466.88 L607.42,467.94 L608.83,469.01 L610.24,470.08 L611.64,471.16 L613.05,472.24 L614.46,473.33 L615.87,474.41 L617.27,475.49 L618.68,476.56 L620.09,477.63 L621.50,478.69 L622.90,479.74 L624.31,480.77 L625.72,481.79 L627.13,482.79 L628.54,483.77 L629.94,484.72 L631.35,485.65 L632.76,486.55 L634.17,487.42 L635.57,488.26 L636.98,489.07 L638.39,489.83 L639.79,490.56 L641.20,491.25 L642.61,491.89 L644.02,492.49 L645.42,493.04 L646.83,493.55 L648.24,494.00 L649.65,494.41 L651.06,494.76 L652.46,495.07 L653.87,495.31 L655.28,495.51 L656.69,495.64 L658.09,495.73 L659.50,495.76" fill="none" stroke="#ff0000" stroke-opacity="0.2" stroke-width="4.25" stroke-linejoin="round"/>
<path d="M96.50,398.00 L97.91,397.99 L99.31,397.95 L100.72,397.90 L102.13,397.82 L103.54,397.71 L104.95,397.59 L106.35,397.44 L107.76,397.27 L109.17,397.07 L110.58,396.86 L111.98,396.62 L113.39,396.36 L114.80,396.08 L116.20,395.78 L117.61,395.46 L119.02,395.12 L120.43,394.76 L121.84,394.38 L123.24,393.99 L124.65,393.57 L126.06,393.14 L127.47,392.69 L128.87,392.22 L130.28,391.74 L131.69,391.24 L133.09,390.73 L134.50,390.21 L135.91,389.67 L137.32,389.12 L138.72,388.55 L140.13,387.98 L141.54,387.39 L142.95,386.80 L144.36,386.20 L145.76,385.59 L147.17,384.97 L148.58,384.35 L149.99,383.72 L151.39,383.09 L152.80,382.45 L154.21,381.81 L155.62,381.17 L157.02,380.53 L158.43,379.88 L159.84,379.24 L161.25,378.60 L162.65,377.96 L164.06,377.33 L165.47,376.70 L166.88,376.08 L168.28,375.46 L169.69,374.85 L171.10,374.25 L172.50,373.66 L173.91,373.08 L175.32,372.50 L176.73,371.95 L178.14,371.40 L179.54,370.87 L180.95,370.35 L182.36,369.85 L183.76,369.36 L185.17,368.89 L186.58,368.44 L187.99,368.01 L189.40,367.60 L190.80,367.21 L192.21,366.85 L193.62,366.50 L195.03,366.18 L196.43,365.88 L197.84,365.61 L199.25,365.36 L200.66,365.14 L202.06,364.94 L203.47,364.77 L204.88,364.63 L206.29,364.52 L207.69,364.44 L209.10,364.39 L210.51,364.37 L211.92,364.38 L213.32,364.43 L214.73,364.50 L216.14,364.61 L217.55,364.75 L218.95,364.92 L220.36,365.13 L221.77,365.37 L223.18,365.65 L224.58,365.96 L225.99,366.30 L227.40,366.69 L228.81,367.10 L230.21,367.55 L231.62,368.04 L233.03,368.57 L234.44,369.12 L235.84,369.72 L237.25,370.35 L238.66,371.02 L240.06,371.72 L241.47,372.46 L242.88,373.23 L244.29,374.04 L245.70,374.88 L247.10,375.76 L248.51,376.68 L249.92,377.62 L251.32,378.60 L252.73,379.62 L254.14,380.67 L255.55,381.75 L256.95,382.86 L258.36,384.00 L259.77,385.18 L261.18,386.38 L262.59,387.62 L263.99,388.88 L265.40,390.18 L266.81,391.50 L268.22,392.84 L269.62,394.22 L271.03,395.62 L272.44,397.04 L273.85,398.49 L275.25,399.96 L276.66,401.45 L278.07,402.97 L279.48,404.50 L280.88,406.05 L282.29,407.62 L283.70,409.21 L285.11,410.81 L286.51,412.43 L287.92,414.06 L289.33,415.70 L290.74,417.35 L292.14,419.02 L293.55,420.69 L294.96,422.37 L296.37,424.05 L297.77,425.75 L299.18,427.44 L300.59,429.14 L302.00,430.83 L303.40,432.53 L304.81,434.23 L306.22,435.92 L307.62,437.61 L309.03,439.29 L310.44,440.97 L311.85,442.63 L313.25,444.29 L314.66,445.94 L316.07,447.57 L317.48,449.19 L318.88,450.79 L320.29,452.38 L321.70,453.94 L323.11,455.49 L324.51,457.02 L325.92,458.52 L327.33,460.00 L328.74,461.45 L330.15,462.88 L331.55,464.28 L332.96,465.65 L334.37,466.99 L335.77,468.29 L337.18,469.56 L338.59,470.80 L340.00,472.00 L341.41,473.17 L342.81,474.29 L344.22,475.38 L345.63,476.42 L347.03,477.42 L348.44,478.38 L349.85,479.29 L351.26,480.16 L352.67,480.98 L354.07,481.75 L355.48,482.47 L356.89,483.14 L358.30,483.76 L359.70,484.33 L361.11,484.85 L362.52,485.31 L363.93,485.72 L365.33,486.07 L366.74,486.36 L368.15,486.60 L369.56,486.78 L370.96,486.90 L372.37,486.96 L373.78,486.96 L375.19,486.91 L376.59,486.79 L378.00,486.60 L379.41,486.36 L380.82,486.06 L382.22,485.69 L383.63,485.26 L385.04,484.76 L386.45,484.20 L387.85,483.58 L389.26,482.90 L390.67,482.15 L392.07,481.33 L393.48,480.46 L394.89,479.52 L396.30,478.51 L397.71,477.44 L399.11,476.31 L400.52,475.12 L401.93,473.86 L403.33,472.54 L404.74,471.16 L406.15,469.71 L407.56,468.21 L408.97,466.64 L410.37,465.01 L411.78,463.33 L413.19,461.58 L414.60,459.78 L416.00,457.92 L417.41,456.01 L418.82,454.04 L420.23,452.01 L421.63,449.93 L423.04,447.80 L424.45,445.61 L425.86,443.38 L427.26,441.10 L428.67,438.76 L430.08,436.39 L431.49,433.96 L432.89,431.49 L434.30,428.98 L435.71,426.43 L437.12,423.84 L438.52,421.20 L439.93,418.53 L441.34,415.83 L442.75,413.09 L444.15,410.32 L445.56,407.52 L446.97,404.69 L448.38,401.83 L449.78,398.95 L451.19,396.04 L452.60,393.11 L454.00,390.17 L455.41,387.20 L456.82,384.22 L458.23,381.22 L459.63,378.21 L461.04,375.19 L462.45,372.16 L463.86,369.12 L465.27,366.09 L466.67,363.04 L468.08,360.00 L469.49,356.96 L470.90,353.93 L472.30,350.90 L473.71,347.87 L475.12,344.86 L476.52,341.86 L477.93,338.88 L479.34,335.91 L480.75,332.96 L482.16,330.03 L483.56,327.12 L484.97,324.24 L486.38,321.39 L487.78,318.56 L489.19,315.77 L490.60,313.01 L492.01,310.29 L493.42,307.60 L494.82,304.96 L496.23,302.35 L497.64,299.79 L499.05,297.28 L500.45,294.81 L501.86,292.40 L503.27,290.03 L504.68,287.72 L506.08,285.47 L507.49,283.27 L508.90,281.14 L510.31,279.06 L511.71,277.05 L513.12,275.10 L514.53,273.22 L515.94,271.41 L517.34,269.66 L518.75,267.99 L520.16,266.40 L521.57,264.87 L522.97,263.43 L524.38,262.06 L525.79,260.77 L527.19,259.56 L528.60,258.43 L530.01,257.39 L531.42,256.43 L532.83,255.55 L534.23,254.77 L535.64,254.07 L537.05,253.45 L538.46,252.93 L539.86,252.50 L541.27,252.16 L542.68,251.92 L544.09,251.76 L545.49,251.70 L546.90,251.73 L548.31,251.86 L549.72,252.08 L551.12,252.40 L552.53,252.82 L553.94,253.33 L555.35,253.94 L556.75,254.64 L558.16,255.45 L559.57,256.34 L560.98,257.34 L562.38,258.43 L563.79,259.62 L565.20,260.91 L566.61,262.29 L568.01,263.77 L569.42,265.34 L570.83,267.01 L572.24,268.77 L573.64,270.62 L575.05,272.57 L576.46,274.61 L577.87,276.75 L579.27,278.97 L580.68,281.28 L582.09,283.69 L583.50,286.17 L584.90,288.75 L586.31,291.41 L587.72,294.16 L589.12,296.98 L590.53,299.89 L591.94,302.88 L593.35,305.94 L594.75,309.09 L596.16,312.31 L597.57,315.60 L598.98,318.96 L600.38,322.39 L601.79,325.89 L603.20,329.46 L604.61,333.09 L606.02,336.78 L607.42,340.53 L608.83,344.34 L610.24,348.20 L611.64,352.12 L613.05,356.09 L614.46,360.11 L615.87,364.17 L617.27,368.28 L618.68,372.42 L620.09,376.61 L621.50,380.83 L622.90,385.09 L624.31,389.38 L625.72,393.70 L627.13,398.04 L628.54,402.40 L629.94,406.79 L631.35,411.19 L632.76,415.61 L634.17,420.04 L635.57,424.48 L636.98,428.93 L638.39,433.38 L639.79,437.83 L641.20,442.27 L642.61,446.71 L644.02,451.15 L645.42,455.57 L646.83,459.98 L648.24,464.37 L649.65,468.74 L651.06,473.09 L652.46,477.41 L653.87,481.71 L655.28,485.97 L656.69,490.20 L658.09,494.39 L659.50,498.54" fill="none" stroke="#000" stroke-width="4.25" stroke-dasharray="15.42 6.67" stroke-linejoin="round"/>
<path d="M96.50,464.87 L97.91,464.74 L99.31,464.54 L100.72,464.27 L102.13,463.94 L103.54,463.55 L104.95,463.08 L106.35,462.56 L107.76,461.96 L109.17,461.31 L110.58,460.59 L111.98,459.81 L113.39,458.97 L114.80,458.08 L116.20,457.12 L117.61,456.11 L119.02,455.05 L120.43,453.93 L121.84,452.77 L123.24,451.56 L124.65,450.30 L126.06,449.00 L127.47,447.65 L128.87,446.27 L130.28,444.86 L131.69,443.41 L133.09,441.93 L134.50,440.41 L135.91,438.88 L137.32,437.32 L138.72,435.74 L140.13,434.14 L141.54,432.52 L142.95,430.89 L144.36,429.25 L145.76,427.60 L147.17,425.94 L148.58,424.28 L149.99,422.62 L151.39,420.96 L152.80,419.31 L154.21,417.65 L155.62,416.01 L157.02,414.38 L158.43,412.76 L159.84,411.15 L161.25,409.56 L162.65,407.99 L164.06,406.44 L165.47,404.91 L166.88,403.40 L168.28,401.92 L169.69,400.47 L171.10,399.05 L172.50,397.65 L173.91,396.29 L175.32,394.97 L176.73,393.67 L178.14,392.42 L179.54,391.20 L180.95,390.02 L182.36,388.89 L183.76,387.79 L185.17,386.74 L186.58,385.72 L187.99,384.76 L189.40,383.84 L190.80,382.96 L192.21,382.14 L193.62,381.36 L195.03,380.63 L196.43,379.94 L197.84,379.31 L199.25,378.73 L200.66,378.19 L202.06,377.71 L203.47,377.28 L204.88,376.89 L206.29,376.56 L207.69,376.28 L209.10,376.05 L210.51,375.87 L211.92,375.74 L213.32,375.66 L214.73,375.63 L216.14,375.65 L217.55,375.71 L218.95,375.83 L220.36,375.99 L221.77,376.20 L223.18,376.45 L224.58,376.75 L225.99,377.09 L227.40,377.48 L228.81,377.91 L230.21,378.38 L231.62,378.89 L233.03,379.43 L234.44,380.02 L235.84,380.64 L237.25,381.30 L238.66,381.99 L240.06,382.71 L241.47,383.46 L242.88,384.25 L244.29,385.06 L245.70,385.90 L247.10,386.77 L248.51,387.66 L249.92,388.57 L251.32,389.50 L252.73,390.46 L254.14,391.43 L255.55,392.42 L256.95,393.42 L258.36,394.44 L259.77,395.47 L261.18,396.52 L262.59,397.57 L263.99,398.63 L265.40,399.70 L266.81,400.78 L268.22,401.86 L269.62,402.94 L271.03,404.03 L272.44,405.11 L273.85,406.19 L275.25,407.27 L276.66,408.35 L278.07,409.42 L279.48,410.49 L280.88,411.55 L282.29,412.60 L283.70,413.64 L285.11,414.67 L286.51,415.68 L287.92,416.68 L289.33,417.67 L290.74,418.64 L292.14,419.59 L293.55,420.52 L294.96,421.44 L296.37,422.33 L297.77,423.20 L299.18,424.05 L300.59,424.87 L302.00,425.67 L303.40,426.44 L304.81,427.19 L306.22,427.90 L307.62,428.59 L309.03,429.25 L310.44,429.88 L311.85,430.48 L313.25,431.04 L314.66,431.58 L316.07,432.08 L317.48,432.55 L318.88,432.98 L320.29,433.39 L321.70,433.75 L323.11,434.09 L324.51,434.39 L325.92,434.66 L327.33,434.89 L328.74,435.09 L330.15,435.25 L331.55,435.39 L332.96,435.49 L334.37,435.55 L335.77,435.59 L337.18,435.60 L338.59,435.57 L340.00,435.52 L341.41,435.44 L342.81,435.33 L344.22,435.20 L345.63,435.04 L347.03,434.86 L348.44,434.66 L349.85,434.43 L351.26,434.19 L352.67,433.93 L354.07,433.65 L355.48,433.36 L356.89,433.05 L358.30,432.73 L359.70,432.40 L361.11,432.06 L362.52,431.72 L363.93,431.37 L365.33,431.01 L366.74,430.65 L368.15,430.30 L369.56,429.94 L370.96,429.58 L372.37,429.23 L373.78,428.88 L375.19,428.54 L376.59,428.21 L378.00,427.88 L379.41,427.57 L380.82,427.26 L382.22,426.97 L383.63,426.69 L385.04,426.43 L386.45,426.17 L387.85,425.94 L389.26,425.72 L390.67,425.51 L392.07,425.32 L393.48,425.15 L394.89,424.99 L396.30,424.85 L397.71,424.73 L399.11,424.62 L400.52,424.53 L401.93,424.45 L403.33,424.39 L404.74,424.34 L406.15,424.30 L407.56,424.28 L408.97,424.26 L410.37,424.26 L411.78,424.27 L413.19,424.28 L414.60,424.30 L416.00,424.32 L417.41,424.34 L418.82,424.37 L420.23,424.39 L421.63,424.41 L423.04,424.42 L424.45,424.43 L425.86,424.43 L427.26,424.41 L428.67,424.38 L430.08,424.34 L431.49,424.27 L432.89,424.18 L434.30,424.07 L435.71,423.93 L437.12,423.77 L438.52,423.57 L439.93,423.33 L441.34,423.06 L442.75,422.75 L444.15,422.40 L445.56,422.00 L446.97,421.55 L448.38,421.05 L449.78,420.50 L451.19,419.89 L452.60,419.22 L454.00,418.49 L455.41,417.70 L456.82,416.84 L458.23,415.92 L459.63,414.92 L461.04,413.85 L462.45,412.71 L463.86,411.49 L465.27,410.20 L466.67,408.82 L468.08,407.36 L469.49,405.82 L470.90,404.20 L472.30,402.49 L473.71,400.69 L475.12,398.81 L476.52,396.84 L477.93,394.78 L479.34,392.64 L480.75,390.41 L482.16,388.09 L483.56,385.69 L484.97,383.20 L486.38,380.63 L487.78,377.98 L489.19,375.24 L490.60,372.43 L492.01,369.54 L493.42,366.58 L494.82,363.55 L496.23,360.44 L497.64,357.28 L499.05,354.05 L500.45,350.77 L501.86,347.44 L503.27,344.05 L504.68,340.63 L506.08,337.17 L507.49,333.68 L508.90,330.16 L510.31,326.62 L511.71,323.07 L513.12,319.51 L514.53,315.96 L515.94,312.41 L517.34,308.87 L518.75,305.36 L520.16,301.87 L521.57,298.42 L522.97,295.02 L524.38,291.67 L525.79,288.38 L527.19,285.16 L528.60,282.02 L530.01,278.96 L531.42,275.99 L532.83,273.13 L534.23,270.37 L535.64,267.73 L537.05,265.21 L538.46,262.82 L539.86,260.58 L541.27,258.47 L542.68,256.52 L544.09,254.73 L545.49,253.10 L546.90,251.65 L548.31,250.37 L549.72,249.27 L551.12,248.35 L552.53,247.63 L553.94,247.10 L555.35,246.77 L556.75,246.64 L558.16,246.71 L559.57,246.98 L560.98,247.46 L562.38,248.15 L563.79,249.05 L565.20,250.15 L566.61,251.46 L568.01,252.97 L569.42,254.69 L570.83,256.61 L572.24,258.73 L573.64,261.04 L575.05,263.55 L576.46,266.25 L577.87,269.13 L579.27,272.19 L580.68,275.42 L582.09,278.82 L583.50,282.38 L584.90,286.09 L586.31,289.96 L587.72,293.96 L589.12,298.10 L590.53,302.36 L591.94,306.74 L593.35,311.23 L594.75,315.82 L596.16,320.50 L597.57,325.27 L598.98,330.11 L600.38,335.01 L601.79,339.97 L603.20,344.98 L604.61,350.02 L606.02,355.10 L607.42,360.19 L608.83,365.29 L610.24,370.39 L611.64,375.49 L613.05,380.57 L614.46,385.62 L615.87,390.63 L617.27,395.61 L618.68,400.53 L620.09,405.39 L621.50,410.19 L622.90,414.91 L624.31,419.54 L625.72,424.09 L627.13,428.54 L628.54,432.89 L629.94,437.13 L631.35,441.25 L632.76,445.25 L634.17,449.13 L635.57,452.88 L636.98,456.49 L638.39,459.95 L639.79,463.28 L641.20,466.46 L642.61,469.49 L644.02,472.36 L645.42,475.08 L646.83,477.64 L648.24,480.04 L649.65,482.28 L651.06,484.36 L652.46,486.28 L653.87,488.04 L655.28,489.63 L656.69,491.06 L658.09,492.34 L659.50,493.45" fill="none" stroke="#008000" stroke-width="4.25" stroke-linejoin="round"/>
</g>
<line x1="96.50" y1="582.45" x2="96.50" y2="599.25" stroke="#000" stroke-width="3.4"/>
<text x="95.90" y="627.0" text-anchor="middle" font-size="30.56">0</text>
<line x1="209.10" y1="582.45" x2="209.10" y2="599.25" stroke="#000" stroke-width="3.4"/>
<text x="208.50" y="627.0" text-anchor="middle" font-size="30.56">2</text>
<line x1="321.70" y1="582.45" x2="321.70" y2="599.25" stroke="#000" stroke-width="3.4"/>
<text x="321.10" y="627.0" text-anchor="middle" font-size="30.56">4</text>
<line x1="434.30" y1="582.45" x2="434.30" y2="599.25" stroke="#000" stroke-width="3.4"/>
<text x="433.70" y="627.0" text-anchor="middle" font-size="30.56">6</text>
<line x1="546.90" y1="582.45" x2="546.90" y2="599.25" stroke="#000" stroke-width="3.4"/>
<text x="546.30" y="627.0" text-anchor="middle" font-size="30.56">8</text>
<line x1="659.50" y1="582.45" x2="659.50" y2="599.25" stroke="#000" stroke-width="3.4"/>
<text x="658.90" y="627.0" text-anchor="middle" font-size="30.56">10</text>
<line x1="79.7" y1="120.40" x2="96.5" y2="120.40" stroke="#000" stroke-width="3.4"/>
<text x="73.8" y="131.90" text-anchor="end" font-size="30.56">15</text>
<line x1="79.7" y1="213.40" x2="96.5" y2="213.40" stroke="#000" stroke-width="3.4"/>
<text x="73.8" y="224.90" text-anchor="end" font-size="30.56">10</text>
<line x1="79.7" y1="305.40" x2="96.5" y2="305.40" stroke="#000" stroke-width="3.4"/>
<text x="73.8" y="316.90" text-anchor="end" font-size="30.56">5</text>
<line x1="79.7" y1="398.40" x2="96.5" y2="398.40" stroke="#000" stroke-width="3.4"/>
<text x="73.8" y="409.90" text-anchor="end" font-size="30.56">0</text>
<line x1="79.7" y1="490.40" x2="96.5" y2="490.40" stroke="#000" stroke-width="3.4"/>
<text x="73.8" y="501.90" text-anchor="end" font-size="30.56"><tspan letter-spacing="-1.7">−</tspan>5</text>
<line x1="79.7" y1="582.45" x2="96.5" y2="582.45" stroke="#000" stroke-width="3.4"/>
<text x="73.8" y="593.95" text-anchor="end" font-size="30.56"><tspan letter-spacing="-1.7">−</tspan>10</text>
<rect x="96.5" y="120.4" width="563.0" height="462.05000000000007" fill="none" stroke="#000" stroke-width="3.4" stroke-linejoin="miter"/>
<text x="377.60" y="35.80" text-anchor="middle" font-size="33.33">Uncertainty</text>
<text x="377.60" y="73.75" text-anchor="middle" font-size="33.33">6 training points</text>
<text x="377.60" y="111.70" text-anchor="middle" font-size="33.33">58.84 error</text>
<clipPath id="clip1"><rect x="772.5" y="120.4" width="564.0" height="462.05000000000007"/></clipPath>
<g clip-path="url(#clip1)">
<path d="M773.00,194.56 L774.41,194.56 L775.81,194.56 L777.22,194.56 L778.63,194.56 L780.03,194.56 L781.44,194.56 L782.85,194.56 L784.25,194.56 L785.66,194.56 L787.07,194.56 L788.47,194.56 L789.88,194.56 L791.29,194.56 L792.69,194.56 L794.10,194.56 L795.51,194.56 L796.91,194.56 L798.32,194.56 L799.73,194.56 L801.13,194.56 L802.54,194.56 L803.95,194.56 L805.36,194.56 L806.76,194.56 L808.17,194.56 L809.58,194.56 L810.98,194.56 L812.39,194.56 L813.80,194.57 L815.20,194.57 L816.61,194.57 L818.02,194.57 L819.42,194.57 L820.83,194.57 L822.24,194.57 L823.64,194.58 L825.05,194.58 L826.46,194.58 L827.86,194.59 L829.27,194.59 L830.68,194.59 L832.08,194.60 L833.49,194.60 L834.90,194.61 L836.30,194.62 L837.71,194.62 L839.12,194.63 L840.52,194.64 L841.93,194.65 L843.34,194.66 L844.74,194.67 L846.15,194.69 L847.56,194.70 L848.96,194.72 L850.37,194.74 L851.78,194.76 L853.18,194.78 L854.59,194.81 L856.00,194.83 L857.40,194.86 L858.81,194.90 L860.22,194.93 L861.63,194.98 L863.03,195.02 L864.44,195.07 L865.85,195.12 L867.25,195.18 L868.66,195.24 L870.07,195.31 L871.47,195.39 L872.88,195.47 L874.29,195.56 L875.69,195.66 L877.10,195.77 L878.51,195.88 L879.91,196.01 L881.32,196.14 L882.73,196.29 L884.13,196.45 L885.54,196.62 L886.95,196.81 L888.35,197.01 L889.76,197.22 L891.17,197.46 L892.57,197.71 L893.98,197.98 L895.39,198.27 L896.79,198.58 L898.20,198.91 L899.61,199.27 L901.01,199.65 L902.42,200.07 L903.83,200.50 L905.23,200.97 L906.64,201.48 L908.05,202.01 L909.45,202.58 L910.86,203.19 L912.27,203.84 L913.67,204.53 L915.08,205.27 L916.49,206.05 L917.90,206.88 L919.30,207.76 L920.71,208.69 L922.12,209.68 L923.52,210.72 L924.93,211.83 L926.34,213.00 L927.74,214.24 L929.15,215.55 L930.56,216.92 L931.96,218.37 L933.37,219.90 L934.78,221.51 L936.18,223.19 L937.59,224.96 L939.00,226.82 L940.40,228.77 L941.81,230.81 L943.22,232.94 L944.62,235.17 L946.03,237.49 L947.44,239.91 L948.84,242.43 L950.25,245.06 L951.66,247.78 L953.06,250.61 L954.47,253.54 L955.88,256.57 L957.28,259.71 L958.69,262.95 L960.10,266.28 L961.50,269.72 L962.91,273.25 L964.32,276.88 L965.72,280.60 L967.13,284.41 L968.54,288.31 L969.95,292.28 L971.35,296.32 L972.76,300.44 L974.17,304.62 L975.57,308.85 L976.98,313.12 L978.39,317.44 L979.79,321.78 L981.20,326.14 L982.61,330.50 L984.01,334.86 L985.42,339.19 L986.83,343.48 L988.23,347.71 L989.64,351.85 L991.05,355.90 L992.45,359.82 L993.86,363.57 L995.27,367.14 L996.67,370.47 L998.08,373.54 L999.49,376.30 L1000.89,378.70 L1002.30,380.69 L1003.71,382.24 L1005.11,383.31 L1006.52,383.86 L1007.93,383.89 L1009.33,383.40 L1010.74,382.39 L1012.15,380.91 L1013.55,378.98 L1014.96,376.66 L1016.37,374.00 L1017.77,371.04 L1019.18,367.82 L1020.59,364.40 L1021.99,360.82 L1023.40,357.10 L1024.81,353.29 L1026.21,349.41 L1027.62,345.49 L1029.03,341.56 L1030.44,337.63 L1031.84,333.73 L1033.25,329.88 L1034.66,326.09 L1036.06,322.37 L1037.47,318.75 L1038.88,315.24 L1040.28,311.85 L1041.69,308.60 L1043.10,305.49 L1044.50,302.53 L1045.91,299.74 L1047.32,297.12 L1048.72,294.68 L1050.13,292.44 L1051.54,290.39 L1052.94,288.54 L1054.35,286.90 L1055.76,285.47 L1057.16,284.26 L1058.57,283.27 L1059.98,282.50 L1061.38,281.96 L1062.79,281.63 L1064.20,281.54 L1065.60,281.66 L1067.01,282.01 L1068.42,282.57 L1069.82,283.35 L1071.23,284.34 L1072.64,285.54 L1074.04,286.94 L1075.45,288.53 L1076.86,290.31 L1078.26,292.27 L1079.67,294.39 L1081.08,296.68 L1082.49,299.11 L1083.89,301.68 L1085.30,304.38 L1086.71,307.19 L1088.11,310.11 L1089.52,313.11 L1090.93,316.18 L1092.33,319.31 L1093.74,322.48 L1095.15,325.68 L1096.55,328.89 L1097.96,332.10 L1099.37,335.28 L1100.77,338.43 L1102.18,341.52 L1103.59,344.53 L1104.99,347.45 L1106.40,350.27 L1107.81,352.96 L1109.21,355.50 L1110.62,357.89 L1112.03,360.10 L1113.43,362.11 L1114.84,363.92 L1116.25,365.51 L1117.65,366.86 L1119.06,367.97 L1120.47,368.83 L1121.87,369.42 L1123.28,369.75 L1124.69,369.81 L1126.09,369.60 L1127.50,369.12 L1128.91,368.37 L1130.31,367.37 L1131.72,366.11 L1133.13,364.60 L1134.53,362.86 L1135.94,360.88 L1137.35,358.69 L1138.76,356.29 L1140.16,353.69 L1141.57,350.91 L1142.98,347.95 L1144.38,344.83 L1145.79,341.56 L1147.20,338.15 L1148.60,334.62 L1150.01,330.97 L1151.42,327.23 L1152.82,323.41 L1154.23,319.51 L1155.64,315.56 L1157.04,311.56 L1158.45,307.53 L1159.86,303.49 L1161.26,299.44 L1162.67,295.39 L1164.08,291.36 L1165.48,287.36 L1166.89,283.40 L1168.30,279.49 L1169.70,275.64 L1171.11,271.85 L1172.52,268.14 L1173.92,264.50 L1175.33,260.95 L1176.74,257.49 L1178.14,254.11 L1179.55,250.82 L1180.96,247.63 L1182.36,244.52 L1183.77,241.51 L1185.18,238.57 L1186.58,235.72 L1187.99,232.95 L1189.40,230.26 L1190.80,227.63 L1192.21,225.06 L1193.62,222.56 L1195.03,220.12 L1196.43,217.74 L1197.84,215.42 L1199.25,213.15 L1200.65,210.96 L1202.06,208.84 L1203.47,206.80 L1204.87,204.85 L1206.28,203.01 L1207.69,201.28 L1209.09,199.67 L1210.50,198.21 L1211.91,196.90 L1213.31,195.76 L1214.72,194.79 L1216.13,194.00 L1217.53,193.41 L1218.94,193.02 L1220.35,192.84 L1221.75,192.86 L1223.16,193.08 L1224.57,193.51 L1225.97,194.14 L1227.38,194.96 L1228.79,195.96 L1230.19,197.12 L1231.60,198.45 L1233.01,199.90 L1234.41,201.48 L1235.82,203.14 L1237.23,204.88 L1238.63,206.65 L1240.04,208.43 L1241.45,210.20 L1242.85,211.92 L1244.26,213.56 L1245.67,215.09 L1247.07,216.50 L1248.48,217.77 L1249.89,218.86 L1251.30,219.78 L1252.70,220.52 L1254.11,221.07 L1255.52,221.44 L1256.92,221.63 L1258.33,221.65 L1259.74,221.52 L1261.14,221.23 L1262.55,220.82 L1263.96,220.28 L1265.36,219.63 L1266.77,218.89 L1268.18,218.07 L1269.58,217.18 L1270.99,216.23 L1272.40,215.23 L1273.80,214.20 L1275.21,213.13 L1276.62,212.06 L1278.02,210.97 L1279.43,209.88 L1280.84,208.79 L1282.24,207.71 L1283.65,206.65 L1285.06,205.62 L1286.46,204.60 L1287.87,203.62 L1289.28,202.67 L1290.68,201.76 L1292.09,200.89 L1293.50,200.05 L1294.90,199.26 L1296.31,198.52 L1297.72,197.81 L1299.12,197.16 L1300.53,196.54 L1301.94,195.98 L1303.34,195.45 L1304.75,194.97 L1306.16,194.54 L1307.57,194.14 L1308.97,193.79 L1310.38,193.47 L1311.79,193.19 L1313.19,192.95 L1314.60,192.74 L1316.01,192.56 L1317.41,192.41 L1318.82,192.29 L1320.23,192.19 L1321.63,192.12 L1323.04,192.07 L1324.45,192.04 L1325.85,192.03 L1327.26,192.03 L1328.67,192.05 L1330.07,192.08 L1331.48,192.13 L1332.89,192.18 L1334.29,192.24 L1335.70,192.31 L1335.70,510.57 L1334.29,510.02 L1332.89,509.41 L1331.48,508.76 L1330.07,508.05 L1328.67,507.28 L1327.26,506.46 L1325.85,505.57 L1324.45,504.61 L1323.04,503.58 L1321.63,502.47 L1320.23,501.28 L1318.82,500.01 L1317.41,498.64 L1316.01,497.18 L1314.60,495.63 L1313.19,493.97 L1311.79,492.21 L1310.38,490.33 L1308.97,488.35 L1307.57,486.24 L1306.16,484.02 L1304.75,481.66 L1303.34,479.19 L1301.94,476.58 L1300.53,473.84 L1299.12,470.96 L1297.72,467.95 L1296.31,464.80 L1294.90,461.52 L1293.50,458.09 L1292.09,454.53 L1290.68,450.83 L1289.28,447.00 L1287.87,443.04 L1286.46,438.95 L1285.06,434.74 L1283.65,430.41 L1282.24,425.97 L1280.84,421.41 L1279.43,416.77 L1278.02,412.03 L1276.62,407.21 L1275.21,402.32 L1273.80,397.38 L1272.40,392.39 L1270.99,387.38 L1269.58,382.34 L1268.18,377.31 L1266.77,372.30 L1265.36,367.33 L1263.96,362.42 L1262.55,357.58 L1261.14,352.84 L1259.74,348.22 L1258.33,343.75 L1256.92,339.44 L1255.52,335.31 L1254.11,331.38 L1252.70,327.67 L1251.30,324.19 L1249.89,320.95 L1248.48,317.96 L1247.07,315.21 L1245.67,312.70 L1244.26,310.42 L1242.85,308.36 L1241.45,306.51 L1240.04,304.84 L1238.63,303.35 L1237.23,302.01 L1235.82,300.82 L1234.41,299.75 L1233.01,298.79 L1231.60,297.93 L1230.19,297.17 L1228.79,296.49 L1227.38,295.90 L1225.97,295.39 L1224.57,294.96 L1223.16,294.62 L1221.75,294.36 L1220.35,294.20 L1218.94,294.15 L1217.53,294.20 L1216.13,294.38 L1214.72,294.69 L1213.31,295.15 L1211.91,295.77 L1210.50,296.56 L1209.09,297.54 L1207.69,298.71 L1206.28,300.10 L1204.87,301.71 L1203.47,303.55 L1202.06,305.63 L1200.65,307.95 L1199.25,310.51 L1197.84,313.32 L1196.43,316.36 L1195.03,319.64 L1193.62,323.14 L1192.21,326.85 L1190.80,330.75 L1189.40,334.82 L1187.99,339.05 L1186.58,343.41 L1185.18,347.89 L1183.77,352.46 L1182.36,357.10 L1180.96,361.79 L1179.55,366.51 L1178.14,371.23 L1176.74,375.94 L1175.33,380.61 L1173.92,385.24 L1172.52,389.79 L1171.11,394.26 L1169.70,398.63 L1168.30,402.88 L1166.89,407.00 L1165.48,410.98 L1164.08,414.81 L1162.67,418.49 L1161.26,421.99 L1159.86,425.32 L1158.45,428.47 L1157.04,431.44 L1155.64,434.22 L1154.23,436.81 L1152.82,439.21 L1151.42,441.43 L1150.01,443.46 L1148.60,445.31 L1147.20,446.97 L1145.79,448.47 L1144.38,449.80 L1142.98,450.96 L1141.57,451.98 L1140.16,452.86 L1138.76,453.60 L1137.35,454.23 L1135.94,454.75 L1134.53,455.18 L1133.13,455.53 L1131.72,455.82 L1130.31,456.05 L1128.91,456.25 L1127.50,456.43 L1126.09,456.60 L1124.69,456.79 L1123.28,456.99 L1121.87,457.22 L1120.47,457.49 L1119.06,457.82 L1117.65,458.20 L1116.25,458.65 L1114.84,459.16 L1113.43,459.75 L1112.03,460.41 L1110.62,461.14 L1109.21,461.95 L1107.81,462.83 L1106.40,463.78 L1104.99,464.81 L1103.59,465.91 L1102.18,467.07 L1100.77,468.30 L1099.37,469.60 L1097.96,470.96 L1096.55,472.38 L1095.15,473.85 L1093.74,475.37 L1092.33,476.95 L1090.93,478.56 L1089.52,480.22 L1088.11,481.90 L1086.71,483.62 L1085.30,485.36 L1083.89,487.12 L1082.49,488.89 L1081.08,490.67 L1079.67,492.45 L1078.26,494.22 L1076.86,495.98 L1075.45,497.71 L1074.04,499.42 L1072.64,501.10 L1071.23,502.73 L1069.82,504.32 L1068.42,505.85 L1067.01,507.33 L1065.60,508.73 L1064.20,510.05 L1062.79,511.30 L1061.38,512.46 L1059.98,513.52 L1058.57,514.48 L1057.16,515.34 L1055.76,516.08 L1054.35,516.71 L1052.94,517.21 L1051.54,517.59 L1050.13,517.84 L1048.72,517.96 L1047.32,517.94 L1045.91,517.79 L1044.50,517.49 L1043.10,517.05 L1041.69,516.47 L1040.28,515.75 L1038.88,514.88 L1037.47,513.88 L1036.06,512.74 L1034.66,511.48 L1033.25,510.08 L1031.84,508.57 L1030.44,506.94 L1029.03,505.21 L1027.62,503.39 L1026.21,501.50 L1024.81,499.55 L1023.40,497.56 L1021.99,495.55 L1020.59,493.55 L1019.18,491.59 L1017.77,489.71 L1016.37,487.94 L1014.96,486.32 L1013.55,484.91 L1012.15,483.74 L1010.74,482.86 L1009.33,482.31 L1007.93,482.11 L1006.52,482.28 L1005.11,482.82 L1003.71,483.71 L1002.30,484.93 L1000.89,486.44 L999.49,488.20 L998.08,490.17 L996.67,492.29 L995.27,494.54 L993.86,496.87 L992.45,499.25 L991.05,501.66 L989.64,504.07 L988.23,506.45 L986.83,508.80 L985.42,511.08 L984.01,513.30 L982.61,515.44 L981.20,517.49 L979.79,519.45 L978.39,521.31 L976.98,523.06 L975.57,524.70 L974.17,526.23 L972.76,527.65 L971.35,528.96 L969.95,530.16 L968.54,531.25 L967.13,532.22 L965.72,533.09 L964.32,533.86 L962.91,534.52 L961.50,535.08 L960.10,535.55 L958.69,535.92 L957.28,536.21 L955.88,536.42 L954.47,536.54 L953.06,536.59 L951.66,536.57 L950.25,536.49 L948.84,536.35 L947.44,536.14 L946.03,535.89 L944.62,535.59 L943.22,535.25 L941.81,534.87 L940.40,534.46 L939.00,534.01 L937.59,533.54 L936.18,533.05 L934.78,532.55 L933.37,532.02 L931.96,531.49 L930.56,530.94 L929.15,530.40 L927.74,529.84 L926.34,529.29 L924.93,528.74 L923.52,528.20 L922.12,527.66 L920.71,527.13 L919.30,526.61 L917.90,526.10 L916.49,525.61 L915.08,525.12 L913.67,524.65 L912.27,524.20 L910.86,523.76 L909.45,523.34 L908.05,522.93 L906.64,522.54 L905.23,522.17 L903.83,521.81 L902.42,521.47 L901.01,521.14 L899.61,520.84 L898.20,520.54 L896.79,520.27 L895.39,520.01 L893.98,519.76 L892.57,519.53 L891.17,519.31 L889.76,519.10 L888.35,518.91 L886.95,518.73 L885.54,518.56 L884.13,518.41 L882.73,518.26 L881.32,518.12 L879.91,518.00 L878.51,517.88 L877.10,517.77 L875.69,517.67 L874.29,517.58 L872.88,517.49 L871.47,517.41 L870.07,517.34 L868.66,517.27 L867.25,517.21 L865.85,517.15 L864.44,517.10 L863.03,517.05 L861.63,517.01 L860.22,516.97 L858.81,516.93 L857.40,516.90 L856.00,516.87 L854.59,516.84 L853.18,516.82 L851.78,516.79 L850.37,516.77 L848.96,516.75 L847.56,516.74 L846.15,516.72 L844.74,516.71 L843.34,516.70 L841.93,516.69 L840.52,516.68 L839.12,516.67 L837.71,516.66 L836.30,516.65 L834.90,516.64 L833.49,516.64 L832.08,516.63 L830.68,516.63 L829.27,516.63 L827.86,516.62 L826.46,516.62 L825.05,516.62 L823.64,516.61 L822.24,516.61 L820.83,516.61 L819.42,516.61 L818.02,516.61 L816.61,516.60 L815.20,516.60 L813.80,516.60 L812.39,516.60 L810.98,516.60 L809.58,516.60 L808.17,516.60 L806.76,516.60 L805.36,516.60 L803.95,516.60 L802.54,516.60 L801.13,516.60 L799.73,516.60 L798.32,516.60 L796.91,516.60 L795.51,516.60 L794.10,516.59 L792.69,516.59 L791.29,516.59 L789.88,516.59 L788.47,516.59 L787.07,516.59 L785.66,516.59 L784.25,516.59 L782.85,516.59 L781.44,516.59 L780.03,516.59 L778.63,516.59 L777.22,516.59 L775.81,516.59 L774.41,516.59 L773.00,516.59Z" fill="#ff0000" fill-opacity="0.2" stroke="#008000" stroke-opacity="0.2" stroke-width="2.6" stroke-linejoin="round"/>
<path d="M773.00,211.26 L774.41,211.26 L775.81,211.26 L777.22,211.26 L778.63,211.26 L780.03,211.26 L781.44,211.26 L782.85,211.26 L784.25,211.26 L785.66,211.26 L787.07,211.26 L788.47,211.26 L789.88,211.26 L791.29,211.26 L792.69,211.26 L794.10,211.26 L795.51,211.26 L796.91,211.26 L798.32,211.26 L799.73,211.26 L801.13,211.26 L802.54,211.26 L803.95,211.26 L805.36,211.26 L806.76,211.26 L808.17,211.26 L809.58,211.26 L810.98,211.26 L812.39,211.27 L813.80,211.27 L815.20,211.27 L816.61,211.27 L818.02,211.27 L819.42,211.27 L820.83,211.27 L822.24,211.27 L823.64,211.28 L825.05,211.28 L826.46,211.28 L827.86,211.28 L829.27,211.29 L830.68,211.29 L832.08,211.29 L833.49,211.30 L834.90,211.30 L836.30,211.31 L837.71,211.31 L839.12,211.32 L840.52,211.33 L841.93,211.33 L843.34,211.34 L844.74,211.35 L846.15,211.36 L847.56,211.38 L848.96,211.39 L850.37,211.41 L851.78,211.42 L853.18,211.44 L854.59,211.46 L856.00,211.48 L857.40,211.51 L858.81,211.54 L860.22,211.57 L861.63,211.60 L863.03,211.64 L864.44,211.68 L865.85,211.72 L867.25,211.77 L868.66,211.82 L870.07,211.88 L871.47,211.94 L872.88,212.01 L874.29,212.08 L875.69,212.16 L877.10,212.25 L878.51,212.34 L879.91,212.44 L881.32,212.56 L882.73,212.68 L884.13,212.81 L885.54,212.95 L886.95,213.10 L888.35,213.27 L889.76,213.44 L891.17,213.64 L892.57,213.84 L893.98,214.07 L895.39,214.31 L896.79,214.56 L898.20,214.84 L899.61,215.14 L901.01,215.46 L902.42,215.80 L903.83,216.16 L905.23,216.56 L906.64,216.97 L908.05,217.42 L909.45,217.90 L910.86,218.41 L912.27,218.96 L913.67,219.54 L915.08,220.16 L916.49,220.82 L917.90,221.53 L919.30,222.27 L920.71,223.07 L922.12,223.91 L923.52,224.81 L924.93,225.76 L926.34,226.76 L927.74,227.83 L929.15,228.95 L930.56,230.14 L931.96,231.40 L933.37,232.73 L934.78,234.13 L936.18,235.60 L937.59,237.15 L939.00,238.78 L940.40,240.50 L941.81,242.29 L943.22,244.18 L944.62,246.15 L946.03,248.22 L947.44,250.37 L948.84,252.62 L950.25,254.97 L951.66,257.42 L953.06,259.96 L954.47,262.60 L955.88,265.34 L957.28,268.18 L958.69,271.12 L960.10,274.16 L961.50,277.30 L962.91,280.53 L964.32,283.86 L965.72,287.28 L967.13,290.78 L968.54,294.38 L969.95,298.06 L971.35,301.81 L972.76,305.64 L974.17,309.53 L975.57,313.49 L976.98,317.49 L978.39,321.54 L979.79,325.63 L981.20,329.75 L982.61,333.87 L984.01,338.00 L985.42,342.12 L986.83,346.21 L988.23,350.25 L989.64,354.23 L991.05,358.12 L992.45,361.90 L993.86,365.54 L995.27,369.01 L996.67,372.27 L998.08,375.29 L999.49,378.02 L1000.89,380.43 L1002.30,382.47 L1003.71,384.11 L1005.11,385.30 L1006.52,386.03 L1007.93,386.28 L1009.33,386.06 L1010.74,385.39 L1012.15,384.29 L1013.55,382.80 L1014.96,380.96 L1016.37,378.83 L1017.77,376.44 L1019.18,373.85 L1020.59,371.09 L1021.99,368.20 L1023.40,365.22 L1024.81,362.17 L1026.21,359.09 L1027.62,356.00 L1029.03,352.92 L1030.44,349.87 L1031.84,346.87 L1033.25,343.94 L1034.66,341.10 L1036.06,338.35 L1037.47,335.71 L1038.88,333.20 L1040.28,330.81 L1041.69,328.57 L1043.10,326.48 L1044.50,324.56 L1045.91,322.79 L1047.32,321.20 L1048.72,319.79 L1050.13,318.56 L1051.54,317.52 L1052.94,316.67 L1054.35,316.00 L1055.76,315.54 L1057.16,315.26 L1058.57,315.18 L1059.98,315.29 L1061.38,315.59 L1062.79,316.07 L1064.20,316.74 L1065.60,317.59 L1067.01,318.62 L1068.42,319.81 L1069.82,321.16 L1071.23,322.66 L1072.64,324.31 L1074.04,326.10 L1075.45,328.01 L1076.86,330.03 L1078.26,332.16 L1079.67,334.38 L1081.08,336.68 L1082.49,339.04 L1083.89,341.45 L1085.30,343.91 L1086.71,346.38 L1088.11,348.86 L1089.52,351.33 L1090.93,353.78 L1092.33,356.19 L1093.74,358.54 L1095.15,360.82 L1096.55,363.02 L1097.96,365.11 L1099.37,367.09 L1100.77,368.95 L1102.18,370.66 L1103.59,372.23 L1104.99,373.64 L1106.40,374.88 L1107.81,375.96 L1109.21,376.87 L1110.62,377.60 L1112.03,378.16 L1113.43,378.54 L1114.84,378.75 L1116.25,378.79 L1117.65,378.66 L1119.06,378.36 L1120.47,377.90 L1121.87,377.27 L1123.28,376.47 L1124.69,375.51 L1126.09,374.39 L1127.50,373.09 L1128.91,371.64 L1130.31,370.01 L1131.72,368.22 L1133.13,366.26 L1134.53,364.14 L1135.94,361.85 L1137.35,359.40 L1138.76,356.78 L1140.16,354.02 L1141.57,351.10 L1142.98,348.04 L1144.38,344.84 L1145.79,341.51 L1147.20,338.06 L1148.60,334.50 L1150.01,330.84 L1151.42,327.10 L1152.82,323.27 L1154.23,319.39 L1155.64,315.45 L1157.04,311.47 L1158.45,307.47 L1159.86,303.45 L1161.26,299.43 L1162.67,295.42 L1164.08,291.43 L1165.48,287.47 L1166.89,283.55 L1168.30,279.68 L1169.70,275.88 L1171.11,272.14 L1172.52,268.48 L1173.92,264.89 L1175.33,261.39 L1176.74,257.98 L1178.14,254.66 L1179.55,251.43 L1180.96,248.29 L1182.36,245.25 L1183.77,242.29 L1185.18,239.42 L1186.58,236.63 L1187.99,233.92 L1189.40,231.29 L1190.80,228.72 L1192.21,226.23 L1193.62,223.79 L1195.03,221.42 L1196.43,219.10 L1197.84,216.85 L1199.25,214.65 L1200.65,212.52 L1202.06,210.47 L1203.47,208.49 L1204.87,206.60 L1206.28,204.81 L1207.69,203.13 L1209.09,201.58 L1210.50,200.16 L1211.91,198.88 L1213.31,197.77 L1214.72,196.83 L1216.13,196.06 L1217.53,195.49 L1218.94,195.11 L1220.35,194.92 L1221.75,194.94 L1223.16,195.16 L1224.57,195.58 L1225.97,196.20 L1227.38,197.00 L1228.79,197.98 L1230.19,199.13 L1231.60,200.44 L1233.01,201.88 L1234.41,203.44 L1235.82,205.10 L1237.23,206.83 L1238.63,208.60 L1240.04,210.40 L1241.45,212.18 L1242.85,213.93 L1244.26,215.61 L1245.67,217.20 L1247.07,218.67 L1248.48,220.01 L1249.89,221.20 L1251.30,222.23 L1252.70,223.09 L1254.11,223.78 L1255.52,224.29 L1256.92,224.65 L1258.33,224.85 L1259.74,224.90 L1261.14,224.81 L1262.55,224.61 L1263.96,224.29 L1265.36,223.87 L1266.77,223.37 L1268.18,222.80 L1269.58,222.16 L1270.99,221.47 L1272.40,220.74 L1273.80,219.97 L1275.21,219.19 L1276.62,218.38 L1278.02,217.58 L1279.43,216.77 L1280.84,215.96 L1282.24,215.17 L1283.65,214.39 L1285.06,213.64 L1286.46,212.91 L1287.87,212.21 L1289.28,211.54 L1290.68,210.90 L1292.09,210.30 L1293.50,209.74 L1294.90,209.21 L1296.31,208.73 L1297.72,208.29 L1299.12,207.88 L1300.53,207.52 L1301.94,207.19 L1303.34,206.90 L1304.75,206.66 L1306.16,206.44 L1307.57,206.27 L1308.97,206.13 L1310.38,206.02 L1311.79,205.94 L1313.19,205.89 L1314.60,205.87 L1316.01,205.87 L1317.41,205.90 L1318.82,205.94 L1320.23,206.01 L1321.63,206.09 L1323.04,206.20 L1324.45,206.31 L1325.85,206.44 L1327.26,206.57 L1328.67,206.72 L1330.07,206.87 L1331.48,207.03 L1332.89,207.19 L1334.29,207.36 L1335.70,207.52 L1335.70,515.57 L1334.29,514.93 L1332.89,514.24 L1331.48,513.50 L1330.07,512.69 L1328.67,511.83 L1327.26,510.90 L1325.85,509.91 L1324.45,508.84 L1323.04,507.70 L1321.63,506.48 L1320.23,505.17 L1318.82,503.78 L1317.41,502.29 L1316.01,500.71 L1314.60,499.03 L1313.19,497.24 L1311.79,495.34 L1310.38,493.34 L1308.97,491.21 L1307.57,488.97 L1306.16,486.61 L1304.75,484.12 L1303.34,481.50 L1301.94,478.76 L1300.53,475.88 L1299.12,472.86 L1297.72,469.72 L1296.31,466.43 L1294.90,463.01 L1293.50,459.45 L1292.09,455.76 L1290.68,451.94 L1289.28,447.98 L1287.87,443.90 L1286.46,439.69 L1285.06,435.36 L1283.65,430.91 L1282.24,426.36 L1280.84,421.71 L1279.43,416.96 L1278.02,412.13 L1276.62,407.22 L1275.21,402.25 L1273.80,397.22 L1272.40,392.16 L1270.99,387.07 L1269.58,381.97 L1268.18,376.88 L1266.77,371.82 L1265.36,366.79 L1263.96,361.83 L1262.55,356.95 L1261.14,352.17 L1259.74,347.51 L1258.33,343.00 L1256.92,338.66 L1255.52,334.50 L1254.11,330.54 L1252.70,326.80 L1251.30,323.29 L1249.89,320.02 L1248.48,316.99 L1247.07,314.21 L1245.67,311.67 L1244.26,309.36 L1242.85,307.27 L1241.45,305.39 L1240.04,303.69 L1238.63,302.18 L1237.23,300.81 L1235.82,299.60 L1234.41,298.51 L1233.01,297.53 L1231.60,296.66 L1230.19,295.89 L1228.79,295.21 L1227.38,294.62 L1225.97,294.10 L1224.57,293.68 L1223.16,293.34 L1221.75,293.09 L1220.35,292.94 L1218.94,292.89 L1217.53,292.95 L1216.13,293.14 L1214.72,293.45 L1213.31,293.91 L1211.91,294.53 L1210.50,295.31 L1209.09,296.27 L1207.69,297.42 L1206.28,298.78 L1204.87,300.35 L1203.47,302.13 L1202.06,304.15 L1200.65,306.39 L1199.25,308.86 L1197.84,311.57 L1196.43,314.49 L1195.03,317.64 L1193.62,320.99 L1192.21,324.53 L1190.80,328.25 L1189.40,332.14 L1187.99,336.17 L1186.58,340.32 L1185.18,344.58 L1183.77,348.92 L1182.36,353.33 L1180.96,357.78 L1179.55,362.25 L1178.14,366.73 L1176.74,371.20 L1175.33,375.64 L1173.92,380.03 L1172.52,384.36 L1171.11,388.62 L1169.70,392.78 L1168.30,396.85 L1166.89,400.80 L1165.48,404.64 L1164.08,408.34 L1162.67,411.91 L1161.26,415.34 L1159.86,418.63 L1158.45,421.76 L1157.04,424.75 L1155.64,427.59 L1154.23,430.27 L1152.82,432.80 L1151.42,435.19 L1150.01,437.42 L1148.60,439.52 L1147.20,441.47 L1145.79,443.29 L1144.38,444.97 L1142.98,446.53 L1141.57,447.97 L1140.16,449.28 L1138.76,450.49 L1137.35,451.59 L1135.94,452.58 L1134.53,453.47 L1133.13,454.27 L1131.72,454.99 L1130.31,455.62 L1128.91,456.17 L1127.50,456.65 L1126.09,457.07 L1124.69,457.43 L1123.28,457.74 L1121.87,458.01 L1120.47,458.24 L1119.06,458.46 L1117.65,458.67 L1116.25,458.88 L1114.84,459.11 L1113.43,459.36 L1112.03,459.66 L1110.62,460.02 L1109.21,460.44 L1107.81,460.94 L1106.40,461.53 L1104.99,462.22 L1103.59,463.01 L1102.18,463.90 L1100.77,464.91 L1099.37,466.03 L1097.96,467.26 L1096.55,468.60 L1095.15,470.04 L1093.74,471.58 L1092.33,473.22 L1090.93,474.94 L1089.52,476.73 L1088.11,478.60 L1086.71,480.52 L1085.30,482.50 L1083.89,484.52 L1082.49,486.57 L1081.08,488.64 L1079.67,490.73 L1078.26,492.81 L1076.86,494.89 L1075.45,496.95 L1074.04,498.97 L1072.64,500.97 L1071.23,502.91 L1069.82,504.80 L1068.42,506.62 L1067.01,508.36 L1065.60,510.02 L1064.20,511.60 L1062.79,513.07 L1061.38,514.43 L1059.98,515.68 L1058.57,516.81 L1057.16,517.81 L1055.76,518.68 L1054.35,519.42 L1052.94,520.01 L1051.54,520.45 L1050.13,520.74 L1048.72,520.89 L1047.32,520.87 L1045.91,520.70 L1044.50,520.37 L1043.10,519.89 L1041.69,519.25 L1040.28,518.45 L1038.88,517.49 L1037.47,516.39 L1036.06,515.14 L1034.66,513.75 L1033.25,512.23 L1031.84,510.58 L1030.44,508.81 L1029.03,506.94 L1027.62,504.98 L1026.21,502.93 L1024.81,500.83 L1023.40,498.68 L1021.99,496.51 L1020.59,494.36 L1019.18,492.24 L1017.77,490.20 L1016.37,488.26 L1014.96,486.48 L1013.55,484.90 L1012.15,483.55 L1010.74,482.48 L1009.33,481.74 L1007.93,481.33 L1006.52,481.29 L1005.11,481.61 L1003.71,482.28 L1002.30,483.28 L1000.89,484.58 L999.49,486.13 L998.08,487.91 L996.67,489.85 L995.27,491.94 L993.86,494.13 L992.45,496.39 L991.05,498.70 L989.64,501.02 L988.23,503.34 L986.83,505.64 L985.42,507.91 L984.01,510.12 L982.61,512.28 L981.20,514.36 L979.79,516.37 L978.39,518.29 L976.98,520.12 L975.57,521.85 L974.17,523.50 L972.76,525.04 L971.35,526.48 L969.95,527.82 L968.54,529.06 L967.13,530.20 L965.72,531.24 L964.32,532.18 L962.91,533.03 L961.50,533.78 L960.10,534.45 L958.69,535.02 L957.28,535.52 L955.88,535.93 L954.47,536.26 L953.06,536.53 L951.66,536.72 L950.25,536.85 L948.84,536.91 L947.44,536.92 L946.03,536.88 L944.62,536.79 L943.22,536.65 L941.81,536.48 L940.40,536.26 L939.00,536.01 L937.59,535.74 L936.18,535.44 L934.78,535.11 L933.37,534.77 L931.96,534.41 L930.56,534.03 L929.15,533.65 L927.74,533.26 L926.34,532.86 L924.93,532.47 L923.52,532.07 L922.12,531.67 L920.71,531.27 L919.30,530.88 L917.90,530.49 L916.49,530.11 L915.08,529.74 L913.67,529.38 L912.27,529.03 L910.86,528.69 L909.45,528.36 L908.05,528.04 L906.64,527.73 L905.23,527.44 L903.83,527.16 L902.42,526.89 L901.01,526.63 L899.61,526.38 L898.20,526.15 L896.79,525.93 L895.39,525.72 L893.98,525.52 L892.57,525.34 L891.17,525.16 L889.76,525.00 L888.35,524.84 L886.95,524.70 L885.54,524.56 L884.13,524.44 L882.73,524.32 L881.32,524.21 L879.91,524.10 L878.51,524.01 L877.10,523.92 L875.69,523.84 L874.29,523.76 L872.88,523.69 L871.47,523.63 L870.07,523.57 L868.66,523.52 L867.25,523.47 L865.85,523.42 L864.44,523.38 L863.03,523.34 L861.63,523.30 L860.22,523.27 L858.81,523.24 L857.40,523.21 L856.00,523.19 L854.59,523.17 L853.18,523.15 L851.78,523.13 L850.37,523.11 L848.96,523.10 L847.56,523.08 L846.15,523.07 L844.74,523.06 L843.34,523.05 L841.93,523.04 L840.52,523.03 L839.12,523.03 L837.71,523.02 L836.30,523.01 L834.90,523.01 L833.49,523.00 L832.08,523.00 L830.68,523.00 L829.27,522.99 L827.86,522.99 L826.46,522.99 L825.05,522.98 L823.64,522.98 L822.24,522.98 L820.83,522.98 L819.42,522.98 L818.02,522.98 L816.61,522.97 L815.20,522.97 L813.80,522.97 L812.39,522.97 L810.98,522.97 L809.58,522.97 L808.17,522.97 L806.76,522.97 L805.36,522.97 L803.95,522.97 L802.54,522.97 L801.13,522.97 L799.73,522.97 L798.32,522.97 L796.91,522.97 L795.51,522.97 L794.10,522.97 L792.69,522.97 L791.29,522.97 L789.88,522.97 L788.47,522.97 L787.07,522.97 L785.66,522.97 L784.25,522.97 L782.85,522.97 L781.44,522.97 L780.03,522.97 L778.63,522.97 L777.22,522.97 L775.81,522.97 L774.41,522.97 L773.00,522.97Z" fill="#008000" fill-opacity="0.3" stroke="none"/>
<circle cx="1106.60" cy="425.30" r="11.4" fill="#ff0000"/>
<circle cx="1007.50" cy="437.49" r="8.2" fill="#000"/>
<circle cx="1115.60" cy="408.06" r="8.2" fill="#000"/>
<circle cx="1135.50" cy="417.55" r="8.2" fill="#000"/>
<circle cx="1200.20" cy="254.13" r="8.2" fill="#000"/>
<circle cx="1245.50" cy="263.15" r="8.2" fill="#000"/>
<path d="M773.00,355.58 L774.41,355.58 L775.81,355.58 L777.22,355.58 L778.63,355.58 L780.03,355.58 L781.44,355.58 L782.85,355.58 L784.25,355.58 L785.66,355.58 L787.07,355.58 L788.47,355.58 L789.88,355.58 L791.29,355.58 L792.69,355.58 L794.10,355.58 L795.51,355.58 L796.91,355.58 L798.32,355.58 L799.73,355.58 L801.13,355.58 L802.54,355.58 L803.95,355.58 L805.36,355.58 L806.76,355.58 L808.17,355.58 L809.58,355.58 L810.98,355.58 L812.39,355.58 L813.80,355.58 L815.20,355.58 L816.61,355.59 L818.02,355.59 L819.42,355.59 L820.83,355.59 L822.24,355.59 L823.64,355.59 L825.05,355.60 L826.46,355.60 L827.86,355.60 L829.27,355.61 L830.68,355.61 L832.08,355.62 L833.49,355.62 L834.90,355.63 L836.30,355.63 L837.71,355.64 L839.12,355.65 L840.52,355.66 L841.93,355.67 L843.34,355.68 L844.74,355.69 L846.15,355.70 L847.56,355.72 L848.96,355.74 L850.37,355.76 L851.78,355.78 L853.18,355.80 L854.59,355.82 L856.00,355.85 L857.40,355.88 L858.81,355.91 L860.22,355.95 L861.63,355.99 L863.03,356.04 L864.44,356.08 L865.85,356.14 L867.25,356.19 L868.66,356.26 L870.07,356.33 L871.47,356.40 L872.88,356.48 L874.29,356.57 L875.69,356.66 L877.10,356.77 L878.51,356.88 L879.91,357.00 L881.32,357.13 L882.73,357.28 L884.13,357.43 L885.54,357.59 L886.95,357.77 L888.35,357.96 L889.76,358.16 L891.17,358.38 L892.57,358.62 L893.98,358.87 L895.39,359.14 L896.79,359.42 L898.20,359.73 L899.61,360.05 L901.01,360.40 L902.42,360.77 L903.83,361.16 L905.23,361.57 L906.64,362.01 L908.05,362.47 L909.45,362.96 L910.86,363.48 L912.27,364.02 L913.67,364.59 L915.08,365.19 L916.49,365.83 L917.90,366.49 L919.30,367.18 L920.71,367.91 L922.12,368.67 L923.52,369.46 L924.93,370.29 L926.34,371.15 L927.74,372.04 L929.15,372.97 L930.56,373.93 L931.96,374.93 L933.37,375.96 L934.78,377.03 L936.18,378.12 L937.59,379.25 L939.00,380.42 L940.40,381.61 L941.81,382.84 L943.22,384.10 L944.62,385.38 L946.03,386.69 L947.44,388.03 L948.84,389.39 L950.25,390.77 L951.66,392.18 L953.06,393.60 L954.47,395.04 L955.88,396.49 L957.28,397.96 L958.69,399.43 L960.10,400.92 L961.50,402.40 L962.91,403.89 L964.32,405.37 L965.72,406.85 L967.13,408.32 L968.54,409.78 L969.95,411.22 L971.35,412.64 L972.76,414.05 L974.17,415.42 L975.57,416.77 L976.98,418.09 L978.39,419.37 L979.79,420.62 L981.20,421.82 L982.61,422.97 L984.01,424.08 L985.42,425.14 L986.83,426.14 L988.23,427.08 L989.64,427.96 L991.05,428.78 L992.45,429.54 L993.86,430.22 L995.27,430.84 L996.67,431.38 L998.08,431.85 L999.49,432.25 L1000.89,432.57 L1002.30,432.81 L1003.71,432.98 L1005.11,433.06 L1006.52,433.07 L1007.93,433.00 L1009.33,432.85 L1010.74,432.63 L1012.15,432.32 L1013.55,431.95 L1014.96,431.49 L1016.37,430.97 L1017.77,430.37 L1019.18,429.71 L1020.59,428.98 L1021.99,428.18 L1023.40,427.33 L1024.81,426.42 L1026.21,425.46 L1027.62,424.44 L1029.03,423.39 L1030.44,422.29 L1031.84,421.15 L1033.25,419.98 L1034.66,418.78 L1036.06,417.56 L1037.47,416.32 L1038.88,415.06 L1040.28,413.80 L1041.69,412.53 L1043.10,411.27 L1044.50,410.01 L1045.91,408.76 L1047.32,407.53 L1048.72,406.32 L1050.13,405.14 L1051.54,403.99 L1052.94,402.88 L1054.35,401.80 L1055.76,400.78 L1057.16,399.80 L1058.57,398.88 L1059.98,398.01 L1061.38,397.21 L1062.79,396.47 L1064.20,395.80 L1065.60,395.19 L1067.01,394.67 L1068.42,394.21 L1069.82,393.84 L1071.23,393.54 L1072.64,393.32 L1074.04,393.18 L1075.45,393.12 L1076.86,393.14 L1078.26,393.24 L1079.67,393.42 L1081.08,393.67 L1082.49,394.00 L1083.89,394.40 L1085.30,394.87 L1086.71,395.41 L1088.11,396.00 L1089.52,396.66 L1090.93,397.37 L1092.33,398.13 L1093.74,398.93 L1095.15,399.77 L1096.55,400.63 L1097.96,401.53 L1099.37,402.44 L1100.77,403.37 L1102.18,404.29 L1103.59,405.22 L1104.99,406.13 L1106.40,407.03 L1107.81,407.89 L1109.21,408.73 L1110.62,409.51 L1112.03,410.25 L1113.43,410.93 L1114.84,411.54 L1116.25,412.08 L1117.65,412.53 L1119.06,412.90 L1120.47,413.16 L1121.87,413.32 L1123.28,413.37 L1124.69,413.30 L1126.09,413.10 L1127.50,412.77 L1128.91,412.31 L1130.31,411.71 L1131.72,410.96 L1133.13,410.07 L1134.53,409.02 L1135.94,407.82 L1137.35,406.46 L1138.76,404.95 L1140.16,403.28 L1141.57,401.44 L1142.98,399.46 L1144.38,397.31 L1145.79,395.01 L1147.20,392.56 L1148.60,389.96 L1150.01,387.22 L1151.42,384.33 L1152.82,381.31 L1154.23,378.16 L1155.64,374.89 L1157.04,371.50 L1158.45,368.00 L1159.86,364.40 L1161.26,360.71 L1162.67,356.94 L1164.08,353.09 L1165.48,349.17 L1166.89,345.20 L1168.30,341.19 L1169.70,337.13 L1171.11,333.06 L1172.52,328.97 L1173.92,324.87 L1175.33,320.78 L1176.74,316.71 L1178.14,312.67 L1179.55,308.67 L1180.96,304.71 L1182.36,300.81 L1183.77,296.98 L1185.18,293.23 L1186.58,289.57 L1187.99,286.00 L1189.40,282.54 L1190.80,279.19 L1192.21,275.96 L1193.62,272.85 L1195.03,269.88 L1196.43,267.05 L1197.84,264.37 L1199.25,261.83 L1200.65,259.45 L1202.06,257.23 L1203.47,255.17 L1204.87,253.28 L1206.28,251.55 L1207.69,249.99 L1209.09,248.60 L1210.50,247.38 L1211.91,246.33 L1213.31,245.45 L1214.72,244.74 L1216.13,244.19 L1217.53,243.81 L1218.94,243.58 L1220.35,243.52 L1221.75,243.61 L1223.16,243.85 L1224.57,244.24 L1225.97,244.76 L1227.38,245.43 L1228.79,246.22 L1230.19,247.15 L1231.60,248.19 L1233.01,249.35 L1234.41,250.61 L1235.82,251.98 L1237.23,253.44 L1238.63,255.00 L1240.04,256.64 L1241.45,258.35 L1242.85,260.14 L1244.26,261.99 L1245.67,263.90 L1247.07,265.86 L1248.48,267.86 L1249.89,269.91 L1251.30,271.99 L1252.70,274.10 L1254.11,276.23 L1255.52,278.37 L1256.92,280.53 L1258.33,282.70 L1259.74,284.87 L1261.14,287.04 L1262.55,289.20 L1263.96,291.35 L1265.36,293.48 L1266.77,295.60 L1268.18,297.69 L1269.58,299.76 L1270.99,301.80 L1272.40,303.81 L1273.80,305.79 L1275.21,307.73 L1276.62,309.63 L1278.02,311.50 L1279.43,313.32 L1280.84,315.10 L1282.24,316.84 L1283.65,318.53 L1285.06,320.18 L1286.46,321.78 L1287.87,323.33 L1289.28,324.84 L1290.68,326.30 L1292.09,327.71 L1293.50,329.07 L1294.90,330.39 L1296.31,331.66 L1297.72,332.88 L1299.12,334.06 L1300.53,335.19 L1301.94,336.28 L1303.34,337.32 L1304.75,338.32 L1306.16,339.28 L1307.57,340.19 L1308.97,341.07 L1310.38,341.90 L1311.79,342.70 L1313.19,343.46 L1314.60,344.18 L1316.01,344.87 L1317.41,345.52 L1318.82,346.15 L1320.23,346.74 L1321.63,347.29 L1323.04,347.82 L1324.45,348.32 L1325.85,348.80 L1327.26,349.25 L1328.67,349.67 L1330.07,350.07 L1331.48,350.44 L1332.89,350.80 L1334.29,351.13 L1335.70,351.44" fill="none" stroke="#ff0000" stroke-opacity="0.2" stroke-width="4.25" stroke-linejoin="round"/>
<path d="M773.00,398.00 L774.41,397.99 L775.81,397.95 L777.22,397.90 L778.63,397.82 L780.03,397.71 L781.44,397.59 L782.85,397.44 L784.25,397.27 L785.66,397.07 L787.07,396.86 L788.47,396.62 L789.88,396.36 L791.29,396.08 L792.69,395.78 L794.10,395.46 L795.51,395.12 L796.91,394.76 L798.32,394.38 L799.73,393.99 L801.13,393.57 L802.54,393.14 L803.95,392.69 L805.36,392.22 L806.76,391.74 L808.17,391.24 L809.58,390.73 L810.98,390.21 L812.39,389.67 L813.80,389.12 L815.20,388.55 L816.61,387.98 L818.02,387.39 L819.42,386.80 L820.83,386.20 L822.24,385.59 L823.64,384.97 L825.05,384.35 L826.46,383.72 L827.86,383.09 L829.27,382.45 L830.68,381.81 L832.08,381.17 L833.49,380.53 L834.90,379.88 L836.30,379.24 L837.71,378.60 L839.12,377.96 L840.52,377.33 L841.93,376.70 L843.34,376.08 L844.74,375.46 L846.15,374.85 L847.56,374.25 L848.96,373.66 L850.37,373.08 L851.78,372.50 L853.18,371.95 L854.59,371.40 L856.00,370.87 L857.40,370.35 L858.81,369.85 L860.22,369.36 L861.63,368.89 L863.03,368.44 L864.44,368.01 L865.85,367.60 L867.25,367.21 L868.66,366.85 L870.07,366.50 L871.47,366.18 L872.88,365.88 L874.29,365.61 L875.69,365.36 L877.10,365.14 L878.51,364.94 L879.91,364.77 L881.32,364.63 L882.73,364.52 L884.13,364.44 L885.54,364.39 L886.95,364.37 L888.35,364.38 L889.76,364.43 L891.17,364.50 L892.57,364.61 L893.98,364.75 L895.39,364.92 L896.79,365.13 L898.20,365.37 L899.61,365.65 L901.01,365.96 L902.42,366.30 L903.83,366.69 L905.23,367.10 L906.64,367.55 L908.05,368.04 L909.45,368.57 L910.86,369.12 L912.27,369.72 L913.67,370.35 L915.08,371.02 L916.49,371.72 L917.90,372.46 L919.30,373.23 L920.71,374.04 L922.12,374.88 L923.52,375.76 L924.93,376.68 L926.34,377.62 L927.74,378.60 L929.15,379.62 L930.56,380.67 L931.96,381.75 L933.37,382.86 L934.78,384.00 L936.18,385.18 L937.59,386.38 L939.00,387.62 L940.40,388.88 L941.81,390.18 L943.22,391.50 L944.62,392.84 L946.03,394.22 L947.44,395.62 L948.84,397.04 L950.25,398.49 L951.66,399.96 L953.06,401.45 L954.47,402.97 L955.88,404.50 L957.28,406.05 L958.69,407.62 L960.10,409.21 L961.50,410.81 L962.91,412.43 L964.32,414.06 L965.72,415.70 L967.13,417.35 L968.54,419.02 L969.95,420.69 L971.35,422.37 L972.76,424.05 L974.17,425.75 L975.57,427.44 L976.98,429.14 L978.39,430.83 L979.79,432.53 L981.20,434.23 L982.61,435.92 L984.01,437.61 L985.42,439.29 L986.83,440.97 L988.23,442.63 L989.64,444.29 L991.05,445.94 L992.45,447.57 L993.86,449.19 L995.27,450.79 L996.67,452.38 L998.08,453.94 L999.49,455.49 L1000.89,457.02 L1002.30,458.52 L1003.71,460.00 L1005.11,461.45 L1006.52,462.88 L1007.93,464.28 L1009.33,465.65 L1010.74,466.99 L1012.15,468.29 L1013.55,469.56 L1014.96,470.80 L1016.37,472.00 L1017.77,473.17 L1019.18,474.29 L1020.59,475.38 L1021.99,476.42 L1023.40,477.42 L1024.81,478.38 L1026.21,479.29 L1027.62,480.16 L1029.03,480.98 L1030.44,481.75 L1031.84,482.47 L1033.25,483.14 L1034.66,483.76 L1036.06,484.33 L1037.47,484.85 L1038.88,485.31 L1040.28,485.72 L1041.69,486.07 L1043.10,486.36 L1044.50,486.60 L1045.91,486.78 L1047.32,486.90 L1048.72,486.96 L1050.13,486.96 L1051.54,486.91 L1052.94,486.79 L1054.35,486.60 L1055.76,486.36 L1057.16,486.06 L1058.57,485.69 L1059.98,485.26 L1061.38,484.76 L1062.79,484.20 L1064.20,483.58 L1065.60,482.90 L1067.01,482.15 L1068.42,481.33 L1069.82,480.46 L1071.23,479.52 L1072.64,478.51 L1074.04,477.44 L1075.45,476.31 L1076.86,475.12 L1078.26,473.86 L1079.67,472.54 L1081.08,471.16 L1082.49,469.71 L1083.89,468.21 L1085.30,466.64 L1086.71,465.01 L1088.11,463.33 L1089.52,461.58 L1090.93,459.78 L1092.33,457.92 L1093.74,456.01 L1095.15,454.04 L1096.55,452.01 L1097.96,449.93 L1099.37,447.80 L1100.77,445.61 L1102.18,443.38 L1103.59,441.10 L1104.99,438.76 L1106.40,436.39 L1107.81,433.96 L1109.21,431.49 L1110.62,428.98 L1112.03,426.43 L1113.43,423.84 L1114.84,421.20 L1116.25,418.53 L1117.65,415.83 L1119.06,413.09 L1120.47,410.32 L1121.87,407.52 L1123.28,404.69 L1124.69,401.83 L1126.09,398.95 L1127.50,396.04 L1128.91,393.11 L1130.31,390.17 L1131.72,387.20 L1133.13,384.22 L1134.53,381.22 L1135.94,378.21 L1137.35,375.19 L1138.76,372.16 L1140.16,369.12 L1141.57,366.09 L1142.98,363.04 L1144.38,360.00 L1145.79,356.96 L1147.20,353.93 L1148.60,350.90 L1150.01,347.87 L1151.42,344.86 L1152.82,341.86 L1154.23,338.88 L1155.64,335.91 L1157.04,332.96 L1158.45,330.03 L1159.86,327.12 L1161.26,324.24 L1162.67,321.39 L1164.08,318.56 L1165.48,315.77 L1166.89,313.01 L1168.30,310.29 L1169.70,307.60 L1171.11,304.96 L1172.52,302.35 L1173.92,299.79 L1175.33,297.28 L1176.74,294.81 L1178.14,292.40 L1179.55,290.03 L1180.96,287.72 L1182.36,285.47 L1183.77,283.27 L1185.18,281.14 L1186.58,279.06 L1187.99,277.05 L1189.40,275.10 L1190.80,273.22 L1192.21,271.41 L1193.62,269.66 L1195.03,267.99 L1196.43,266.40 L1197.84,264.87 L1199.25,263.43 L1200.65,262.06 L1202.06,260.77 L1203.47,259.56 L1204.87,258.43 L1206.28,257.39 L1207.69,256.43 L1209.09,255.55 L1210.50,254.77 L1211.91,254.07 L1213.31,253.45 L1214.72,252.93 L1216.13,252.50 L1217.53,252.16 L1218.94,251.92 L1220.35,251.76 L1221.75,251.70 L1223.16,251.73 L1224.57,251.86 L1225.97,252.08 L1227.38,252.40 L1228.79,252.82 L1230.19,253.33 L1231.60,253.94 L1233.01,254.64 L1234.41,255.45 L1235.82,256.34 L1237.23,257.34 L1238.63,258.43 L1240.04,259.62 L1241.45,260.91 L1242.85,262.29 L1244.26,263.77 L1245.67,265.34 L1247.07,267.01 L1248.48,268.77 L1249.89,270.62 L1251.30,272.57 L1252.70,274.61 L1254.11,276.75 L1255.52,278.97 L1256.92,281.28 L1258.33,283.69 L1259.74,286.17 L1261.14,288.75 L1262.55,291.41 L1263.96,294.16 L1265.36,296.98 L1266.77,299.89 L1268.18,302.88 L1269.58,305.94 L1270.99,309.09 L1272.40,312.31 L1273.80,315.60 L1275.21,318.96 L1276.62,322.39 L1278.02,325.89 L1279.43,329.46 L1280.84,333.09 L1282.24,336.78 L1283.65,340.53 L1285.06,344.34 L1286.46,348.20 L1287.87,352.12 L1289.28,356.09 L1290.68,360.11 L1292.09,364.17 L1293.50,368.28 L1294.90,372.42 L1296.31,376.61 L1297.72,380.83 L1299.12,385.09 L1300.53,389.38 L1301.94,393.70 L1303.34,398.04 L1304.75,402.40 L1306.16,406.79 L1307.57,411.19 L1308.97,415.61 L1310.38,420.04 L1311.79,424.48 L1313.19,428.93 L1314.60,433.38 L1316.01,437.83 L1317.41,442.27 L1318.82,446.71 L1320.23,451.15 L1321.63,455.57 L1323.04,459.98 L1324.45,464.37 L1325.85,468.74 L1327.26,473.09 L1328.67,477.41 L1330.07,481.71 L1331.48,485.97 L1332.89,490.20 L1334.29,494.39 L1335.70,498.54" fill="none" stroke="#000" stroke-width="4.25" stroke-dasharray="15.42 6.67" stroke-linejoin="round"/>
<path d="M773.00,367.11 L774.41,367.11 L775.81,367.11 L777.22,367.11 L778.63,367.11 L780.03,367.11 L781.44,367.11 L782.85,367.11 L784.25,367.11 L785.66,367.11 L787.07,367.11 L788.47,367.11 L789.88,367.11 L791.29,367.11 L792.69,367.11 L794.10,367.11 L795.51,367.11 L796.91,367.11 L798.32,367.11 L799.73,367.11 L801.13,367.12 L802.54,367.12 L803.95,367.12 L805.36,367.12 L806.76,367.12 L808.17,367.12 L809.58,367.12 L810.98,367.12 L812.39,367.12 L813.80,367.12 L815.20,367.12 L816.61,367.12 L818.02,367.12 L819.42,367.12 L820.83,367.13 L822.24,367.13 L823.64,367.13 L825.05,367.13 L826.46,367.13 L827.86,367.14 L829.27,367.14 L830.68,367.14 L832.08,367.15 L833.49,367.15 L834.90,367.15 L836.30,367.16 L837.71,367.17 L839.12,367.17 L840.52,367.18 L841.93,367.19 L843.34,367.20 L844.74,367.21 L846.15,367.22 L847.56,367.23 L848.96,367.24 L850.37,367.26 L851.78,367.28 L853.18,367.29 L854.59,367.31 L856.00,367.34 L857.40,367.36 L858.81,367.39 L860.22,367.42 L861.63,367.45 L863.03,367.49 L864.44,367.53 L865.85,367.57 L867.25,367.62 L868.66,367.67 L870.07,367.72 L871.47,367.78 L872.88,367.85 L874.29,367.92 L875.69,368.00 L877.10,368.08 L878.51,368.18 L879.91,368.27 L881.32,368.38 L882.73,368.50 L884.13,368.62 L885.54,368.76 L886.95,368.90 L888.35,369.05 L889.76,369.22 L891.17,369.40 L892.57,369.59 L893.98,369.80 L895.39,370.01 L896.79,370.25 L898.20,370.50 L899.61,370.76 L901.01,371.04 L902.42,371.34 L903.83,371.66 L905.23,372.00 L906.64,372.35 L908.05,372.73 L909.45,373.13 L910.86,373.55 L912.27,373.99 L913.67,374.46 L915.08,374.95 L916.49,375.47 L917.90,376.01 L919.30,376.58 L920.71,377.17 L922.12,377.79 L923.52,378.44 L924.93,379.11 L926.34,379.81 L927.74,380.54 L929.15,381.30 L930.56,382.09 L931.96,382.90 L933.37,383.75 L934.78,384.62 L936.18,385.52 L937.59,386.45 L939.00,387.40 L940.40,388.38 L941.81,389.38 L943.22,390.42 L944.62,391.47 L946.03,392.55 L947.44,393.65 L948.84,394.77 L950.25,395.91 L951.66,397.07 L953.06,398.24 L954.47,399.43 L955.88,400.64 L957.28,401.85 L958.69,403.07 L960.10,404.30 L961.50,405.54 L962.91,406.78 L964.32,408.02 L965.72,409.26 L967.13,410.49 L968.54,411.72 L969.95,412.94 L971.35,414.14 L972.76,415.34 L974.17,416.51 L975.57,417.67 L976.98,418.80 L978.39,419.92 L979.79,421.00 L981.20,422.05 L982.61,423.08 L984.01,424.06 L985.42,425.01 L986.83,425.93 L988.23,426.80 L989.64,427.63 L991.05,428.41 L992.45,429.15 L993.86,429.84 L995.27,430.48 L996.67,431.06 L998.08,431.60 L999.49,432.08 L1000.89,432.51 L1002.30,432.88 L1003.71,433.19 L1005.11,433.45 L1006.52,433.66 L1007.93,433.81 L1009.33,433.90 L1010.74,433.94 L1012.15,433.92 L1013.55,433.85 L1014.96,433.72 L1016.37,433.55 L1017.77,433.32 L1019.18,433.05 L1020.59,432.72 L1021.99,432.36 L1023.40,431.95 L1024.81,431.50 L1026.21,431.01 L1027.62,430.49 L1029.03,429.93 L1030.44,429.34 L1031.84,428.73 L1033.25,428.09 L1034.66,427.43 L1036.06,426.75 L1037.47,426.05 L1038.88,425.35 L1040.28,424.63 L1041.69,423.91 L1043.10,423.19 L1044.50,422.46 L1045.91,421.75 L1047.32,421.04 L1048.72,420.34 L1050.13,419.65 L1051.54,418.99 L1052.94,418.34 L1054.35,417.71 L1055.76,417.11 L1057.16,416.54 L1058.57,415.99 L1059.98,415.48 L1061.38,415.01 L1062.79,414.57 L1064.20,414.17 L1065.60,413.81 L1067.01,413.49 L1068.42,413.21 L1069.82,412.98 L1071.23,412.79 L1072.64,412.64 L1074.04,412.53 L1075.45,412.48 L1076.86,412.46 L1078.26,412.48 L1079.67,412.55 L1081.08,412.66 L1082.49,412.81 L1083.89,412.99 L1085.30,413.20 L1086.71,413.45 L1088.11,413.73 L1089.52,414.03 L1090.93,414.36 L1092.33,414.70 L1093.74,415.06 L1095.15,415.43 L1096.55,415.81 L1097.96,416.19 L1099.37,416.56 L1100.77,416.93 L1102.18,417.28 L1103.59,417.62 L1104.99,417.93 L1106.40,418.21 L1107.81,418.45 L1109.21,418.65 L1110.62,418.81 L1112.03,418.91 L1113.43,418.95 L1114.84,418.93 L1116.25,418.84 L1117.65,418.67 L1119.06,418.41 L1120.47,418.07 L1121.87,417.64 L1123.28,417.11 L1124.69,416.47 L1126.09,415.73 L1127.50,414.87 L1128.91,413.90 L1130.31,412.82 L1131.72,411.60 L1133.13,410.27 L1134.53,408.81 L1135.94,407.21 L1137.35,405.49 L1138.76,403.64 L1140.16,401.65 L1141.57,399.53 L1142.98,397.28 L1144.38,394.90 L1145.79,392.40 L1147.20,389.77 L1148.60,387.01 L1150.01,384.13 L1151.42,381.14 L1152.82,378.04 L1154.23,374.83 L1155.64,371.52 L1157.04,368.11 L1158.45,364.62 L1159.86,361.04 L1161.26,357.38 L1162.67,353.66 L1164.08,349.88 L1165.48,346.05 L1166.89,342.18 L1168.30,338.27 L1169.70,334.33 L1171.11,330.38 L1172.52,326.42 L1173.92,322.46 L1175.33,318.52 L1176.74,314.59 L1178.14,310.70 L1179.55,306.84 L1180.96,303.04 L1182.36,299.29 L1183.77,295.61 L1185.18,292.00 L1186.58,288.48 L1187.99,285.05 L1189.40,281.71 L1190.80,278.49 L1192.21,275.38 L1193.62,272.39 L1195.03,269.53 L1196.43,266.80 L1197.84,264.21 L1199.25,261.76 L1200.65,259.46 L1202.06,257.31 L1203.47,255.31 L1204.87,253.47 L1206.28,251.79 L1207.69,250.28 L1209.09,248.92 L1210.50,247.73 L1211.91,246.71 L1213.31,245.84 L1214.72,245.14 L1216.13,244.60 L1217.53,244.22 L1218.94,244.00 L1220.35,243.93 L1221.75,244.02 L1223.16,244.25 L1224.57,244.63 L1225.97,245.15 L1227.38,245.81 L1228.79,246.60 L1230.19,247.51 L1231.60,248.55 L1233.01,249.71 L1234.41,250.98 L1235.82,252.35 L1237.23,253.82 L1238.63,255.39 L1240.04,257.05 L1241.45,258.78 L1242.85,260.60 L1244.26,262.49 L1245.67,264.44 L1247.07,266.44 L1248.48,268.50 L1249.89,270.61 L1251.30,272.76 L1252.70,274.94 L1254.11,277.16 L1255.52,279.40 L1256.92,281.65 L1258.33,283.92 L1259.74,286.21 L1261.14,288.49 L1262.55,290.78 L1263.96,293.06 L1265.36,295.33 L1266.77,297.59 L1268.18,299.84 L1269.58,302.07 L1270.99,304.27 L1272.40,306.45 L1273.80,308.60 L1275.21,310.72 L1276.62,312.80 L1278.02,314.85 L1279.43,316.86 L1280.84,318.84 L1282.24,320.77 L1283.65,322.65 L1285.06,324.50 L1286.46,326.30 L1287.87,328.05 L1289.28,329.76 L1290.68,331.42 L1292.09,333.03 L1293.50,334.60 L1294.90,336.11 L1296.31,337.58 L1297.72,339.00 L1299.12,340.37 L1300.53,341.70 L1301.94,342.97 L1303.34,344.20 L1304.75,345.39 L1306.16,346.53 L1307.57,347.62 L1308.97,348.67 L1310.38,349.68 L1311.79,350.64 L1313.19,351.56 L1314.60,352.45 L1316.01,353.29 L1317.41,354.09 L1318.82,354.86 L1320.23,355.59 L1321.63,356.29 L1323.04,356.95 L1324.45,357.58 L1325.85,358.17 L1327.26,358.74 L1328.67,359.27 L1330.07,359.78 L1331.48,360.26 L1332.89,360.72 L1334.29,361.14 L1335.70,361.55" fill="none" stroke="#008000" stroke-width="4.25" stroke-linejoin="round"/>
</g>
<line x1="772.50" y1="582.45" x2="772.50" y2="599.25" stroke="#000" stroke-width="3.4"/>
<text x="771.90" y="627.0" text-anchor="middle" font-size="30.56">0</text>
<line x1="885.30" y1="582.45" x2="885.30" y2="599.25" stroke="#000" stroke-width="3.4"/>
<text x="884.70" y="627.0" text-anchor="middle" font-size="30.56">2</text>
<line x1="998.10" y1="582.45" x2="998.10" y2="599.25" stroke="#000" stroke-width="3.4"/>
<text x="997.50" y="627.0" text-anchor="middle" font-size="30.56">4</text>
<line x1="1110.90" y1="582.45" x2="1110.90" y2="599.25" stroke="#000" stroke-width="3.4"/>
<text x="1110.30" y="627.0" text-anchor="middle" font-size="30.56">6</text>
<line x1="1223.70" y1="582.45" x2="1223.70" y2="599.25" stroke="#000" stroke-width="3.4"/>
<text x="1223.10" y="627.0" text-anchor="middle" font-size="30.56">8</text>
<line x1="1336.50" y1="582.45" x2="1336.50" y2="599.25" stroke="#000" stroke-width="3.4"/>
<text x="1335.90" y="627.0" text-anchor="middle" font-size="30.56">10</text>
<line x1="755.7" y1="120.40" x2="772.5" y2="120.40" stroke="#000" stroke-width="3.4"/>
<text x="749.8000000000001" y="131.90" text-anchor="end" font-size="30.56">15</text>
<line x1="755.7" y1="213.40" x2="772.5" y2="213.40" stroke="#000" stroke-width="3.4"/>
<text x="749.8000000000001" y="224.90" text-anchor="end" font-size="30.56">10</text>
<line x1="755.7" y1="305.40" x2="772.5" y2="305.40" stroke="#000" stroke-width="3.4"/>
<text x="749.8000000000001" y="316.90" text-anchor="end" font-size="30.56">5</text>
<line x1="755.7" y1="398.40" x2="772.5" y2="398.40" stroke="#000" stroke-width="3.4"/>
<text x="749.8000000000001" y="409.90" text-anchor="end" font-size="30.56">0</text>
<line x1="755.7" y1="490.40" x2="772.5" y2="490.40" stroke="#000" stroke-width="3.4"/>
<text x="749.8000000000001" y="501.90" text-anchor="end" font-size="30.56"><tspan letter-spacing="-1.7">−</tspan>5</text>
<line x1="755.7" y1="582.45" x2="772.5" y2="582.45" stroke="#000" stroke-width="3.4"/>
<text x="749.8000000000001" y="593.95" text-anchor="end" font-size="30.56"><tspan letter-spacing="-1.7">−</tspan>10</text>
<rect x="772.5" y="120.4" width="564.0" height="462.05000000000007" fill="none" stroke="#000" stroke-width="3.4" stroke-linejoin="miter"/>
<text x="1053.50" y="35.80" text-anchor="middle" font-size="33.33">Random</text>
<text x="1053.50" y="73.75" text-anchor="middle" font-size="33.33">6 training points</text>
<text x="1053.50" y="111.70" text-anchor="middle" font-size="33.33">61.64 error</text>
</svg>
</body></html>
